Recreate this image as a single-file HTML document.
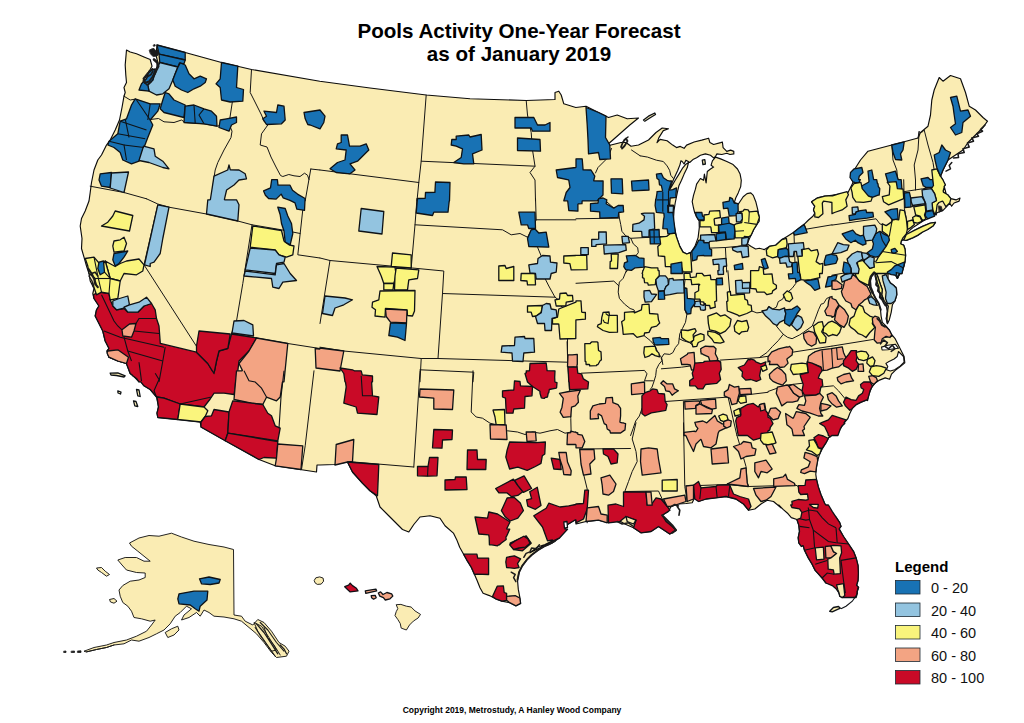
<!DOCTYPE html>
<html lang="en"><head><meta charset="utf-8"><title>Pools Activity One-Year Forecast</title>
<style>
html,body{margin:0;padding:0;background:#fff}
body{width:1024px;height:723px;overflow:hidden;position:relative;font-family:"Liberation Sans",Arial,sans-serif}
svg{position:absolute;left:0;top:0;display:block}
.t{font-family:"Liberation Sans",Arial,sans-serif;font-weight:bold;fill:#000}
.land{fill:#faecb3;stroke:#0c0c0c;stroke-width:1.15;stroke-linejoin:round}
.st{fill:none;stroke:#151515;stroke-width:1.0;stroke-linejoin:round;stroke-linecap:round}
.m polygon{stroke:#0e1216;stroke-width:1.3;stroke-linejoin:round}
.b{fill:#1872b4}.l{fill:#93c4e0}.y{fill:#faf57d}.s{fill:#f3a483}.r{fill:#c90a27}.w{fill:#fff}.c{fill:#faecb3}
</style></head><body>
<svg width="1024" height="723" viewBox="0 0 1024 723">
<rect width="1024" height="723" fill="#fff"/>

<g id="land">
<polygon class="land" points="126.5,50 130.2,52 136.5,53.8 144,57 150.2,59.5 152,66.2 147.8,73.8 144,80 146.5,83.8 150.2,85.5 152.8,80 156,71.2 157.8,62.5 156,55 157,45 185.2,52.5 221.5,62.5 251.5,69.5 319.8,81.2 370,88 426.2,95 470,98.8 526.2,100.5 555,99.5 555,92.5 558.8,91.2 561.2,95 563.8,103.8 575.8,107.5 586,106.2 598.5,112.5 608.5,117.5 617.2,115 627.2,118.8 638.5,118 629.8,125 618.5,135 608.5,143.8 603.5,147.5 611,145 621,142.5 626,142.5 631,146.2 638.5,145 648.5,140 656,132.5 662.2,128 668.5,128.8 663.3,130.6 658.9,137.6 657,142.6 660.1,139.4 667.1,140.7 672.7,145.1 676.5,147.6 680.3,146.4 684.1,148.3 686.6,145.1 694.1,142 701.7,140.1 708.6,138.2 709.9,142.6 713.6,144.5 720.6,142.6 722.4,142 723.1,147.6 726.8,151.4 730.6,150.1 733.8,151.4 733.8,153.9 730,154.5 726.8,153.3 721.8,154.5 716.8,153.9 715.5,156.4 713.6,157.9 710.5,155.2 705.4,153.9 700.4,155.2 696.6,157.7 692.9,159.6 689.7,162.5 687.8,161.2 685.9,160.2 684.1,164 682.2,161.5 680.9,160.8 680,164.6 677.8,170.3 674,178.5 671.5,184.1 668.9,189.2 668.3,191.7 671.5,186.6 675.2,180.3 679,174.1 682.8,167.8 685.9,164.2 688.5,162.5 687.2,167.8 684.1,174.1 681.5,180.3 679,185.4 677.8,190.4 676.5,196.7 675.2,203 674,210.6 673.4,221 673.5,222.5 674.8,228.8 676.7,237.6 679.8,246.4 683,252.1 686.8,254 691.2,252.1 694.9,246.4 698.1,237.6 699.3,227.6 699.1,221.3 699.2,221 697.3,218.1 694.8,213.1 693.5,208 692.2,201.7 693.5,195.4 695.4,189.2 696.6,184.1 699.2,180.3 700.4,178.5 703.6,180.3 704.4,174.1 706.1,182.9 707.3,171.5 710.5,169 713.6,167.1 711.1,165.2 712.4,160.8 714.3,158.7 715.5,157.1 720.6,158.9 726.8,161.5 733.1,164.6 737.5,169 740.1,174.1 741.3,180.3 740.7,186.6 738.2,192.9 735.7,198 734.4,202.4 738.2,204.3 740.7,200.5 743.2,196.7 747,193.6 750.8,192.9 753.3,195.4 755.8,201.7 757.7,209.3 758.9,215.6 759.3,221 759.1,221.3 756.9,224.4 753.7,229.5 751.2,235.1 748.7,240.2 747.4,243.9 751.2,246.4 755.6,249 759.4,248.3 764.4,249.6 769.4,246.4 775.7,245.2 782,239.5 787.1,236.4 793.4,232.6 799.7,227.6 804.1,224.4 808.5,220 812.9,216.2 814.8,213.1 813.5,209.9 814.8,206.2 811.6,201.8 817.3,198 824.8,196.1 832,195.5 833,195 848,192.5 853,182.5 850.5,175 854.2,170 860.5,160 868,151.2 891.8,145 904.2,141.8 918,138 920.5,132.5 928,126.2 930.5,115 931.8,100 934.2,90 939.2,77.5 943,81.2 950.5,75.5 960.5,78.8 965.5,92.5 969.2,106.2 975.5,110 983,117.5 987.5,121.2 983,127.5 975.5,135 968,142.5 963,150 955.5,155 948,160 943,170 940.5,176.2 943,180 944.2,187.5 941.8,195 948,200.8 942.8,181 945.3,184.8 942.8,188.6 943.4,192.3 947.8,194.8 950.9,198.6 956,199.9 960,198 959.1,201.1 954.1,203 951.6,206.2 949.7,203 945.9,207.4 942.8,210.6 937.7,212.5 932.7,215.6 927.7,218.8 922.6,221.3 918.8,223.8 913.8,226.9 910,230.1 906.3,233.9 904.4,237 906.9,234.9 913.8,230.7 922.6,226.3 930.2,223.2 935.5,222.3 933.3,225.7 927.7,229.5 922.6,232 917.6,235.4 912.6,237.9 906.3,240.4 903.1,239.5 901.2,241.4 900.6,243.9 903.7,245.2 905,249 905.6,255.3 905,261.6 903.1,267.8 901.9,272 905,262 903.7,267 900.6,272.1 897.4,278.4 895.6,275.2 891.2,274 888,273.3 888.1,279 890.3,282.9 893.9,285.5 896.4,288.4 896.8,294.7 894.9,301 892.4,304.8 891.2,312.3 889.3,319.9 887.4,323.7 886.1,318.6 887.4,312.3 888.4,306.1 886.1,303.5 883.6,299.8 881.7,294.7 882.3,289.7 880.5,284.7 878.8,279.6 877.3,275.2 874.8,272.1 871.6,275.8 869.5,280.9 869.8,287.2 872.3,292.2 874.8,297.2 878.6,303.5 880.5,309.8 881.1,316.1 882.3,322.4 886.1,326.2 889.3,330 891.8,335 892.2,335.1 895.3,338.9 900.3,348.9 904.1,356.5 904.8,362.8 900.3,366.6 895.3,370.3 891.5,374.1 889.6,379.2 885.2,377.9 878.9,380.4 875.2,382.9 871.4,388 868.9,394.3 867.6,400.6 867.4,399.6 861.1,402.2 856.1,404.7 852.3,408.4 849.8,413.5 847.9,418.5 843.5,423.6 840.4,428.6 837.9,434 836,431.6 833.4,434.1 828.4,437.8 825.9,442.9 822.1,449.2 819.6,454.2 817.7,460.5 816.5,466.8 815.8,474.3 816.5,479.4 818.3,486.9 820.9,494.5 824.6,503.3 829.7,510.8 832.8,515 836,517 839.7,522.6 841,526.4 839.1,528.9 843.5,536.5 848.6,544 853.6,551.6 856.1,557.9 858,565.4 858.4,573 858,580.5 856.1,586.8 858,579.8 856.1,584.9 858.6,587.4 857.4,591.2 854.8,594.3 851.1,596.2 848.6,596.8 844.8,595.6 842.3,597.5 839.7,596.2 839.1,593.1 837.9,589.9 834.7,586.1 830.9,584.3 825.9,583 825.9,583 822.1,578 818.3,573.6 815.2,570.4 812.1,564.2 808.3,557.9 804.5,550.3 803.2,545.3 801.4,546.5 798.8,542.8 798.2,537.7 799.5,531.4 798.8,525.1 796.9,519.5 791.3,517.6 788.1,513.8 783.1,509.4 778.7,505 781,507.8 773.5,501.5 767.2,500.2 761,504 754.8,509 748.5,510.2 743.5,504 736,499 726,496.5 716,497.8 706,499 698.5,501.5 696,496.5 694,499 692.2,502.8 686,503.5 678.5,504 671,506.5 668.5,511.5 662.2,515.2 666,521.5 672.2,526.5 676,530.2 669.8,534 658.5,526.5 651,531.5 641,532.8 633.5,527.8 624.8,524 618.5,520.2 608.5,522.8 598.5,520.2 586,521.5 576,524 575.8,519.5 567.5,524.5 562.5,532 555,539.5 545,544.5 537.5,547 530,552.8 559.7,537.8 551.9,543.3 544.1,546.4 537.8,550.3 531.6,555 526.9,559.7 522.2,565.9 519.1,572.2 517.5,580 518.3,589.4 519.8,597.2 520.6,603.4 515.9,605.8 509.7,602.7 501.9,601.1 495.6,598.8 489.4,595.6 483.1,593.3 480,587.8 476.9,580 474.5,574.5 471.4,567.5 467.5,561.2 463.6,554.2 459.7,547.2 456.6,539.4 453.4,533.1 445,525.8 440,518.2 430,515.8 420,517 413.8,524.5 408.8,532 402.5,529.5 395,522 387.5,514.5 380,507 376.2,495.8 370,490.8 362.5,483.2 352.5,472 347.5,462 334.5,464.5 320,465 317,465 316.5,472 275.2,465.8 259,459.5 201,427 200.2,422 177.8,419.5 157.8,417.5 157,413.2 158.5,407 156.5,397 150.2,389.5 144,385.8 139,379.5 132.8,375.8 129.5,372 139,381.8 136.5,378.5 130.2,373.5 126.5,363.5 117.8,361 109,357.2 107,351 109,348.5 105.2,341 102.8,331 99,323.5 95.2,316 96.5,309.8 99,306 94,298.5 92.8,293.5 94,288.5 90.2,281 89,273.5 86.5,266 84,257.2 81.5,248.5 82,238.5 80.2,226 81.5,218.5 85.2,211 89,201 90.2,192.5 91.5,182.5 94,170 97.8,160 101.5,155 106.5,145 110.2,140 115.2,130 119.5,120 122,107.5 124,96.2 125.2,92.5 124,87.5 126.5,82.5 125.8,75 125.2,65"/>
<polygon class="land" style="stroke-width:0.9" points="129.5,543 139,538 149,535.5 159,536.2 171.5,533.2 181.5,537 194,541.2 209,544.5 224,547 233.5,549.5 234,615 241.5,616.2 245.2,621.2 252.8,625 257.8,619.5 264,622.5 271.5,631.2 279,642.5 285.2,646.2 289,651.2 286.5,656.2 276.5,657.5 271.5,652.5 264,642.5 256.5,633.8 249,627.5 241.5,621.2 234,618.8 224,617 214,616.2 209,612.5 204,610 200.2,616.2 196.5,612.5 189,617.5 181.5,620 184,615 191.5,608.8 186.5,606.2 180.2,612.5 175.2,616.2 170.2,623.8 164,630 156.5,633.8 149,637.5 139,641.2 131.5,640 124,643.8 114,645 106.5,647.5 96.5,649.5 86.5,652 84,651.2 94,647.5 106.5,645 114,642.5 126.5,640 136.5,636.2 146.5,631.2 151.5,625 155.2,620 150.2,621.2 141.5,618.8 134,617.5 131.5,611.2 127.8,606.2 122.8,602.5 120.2,596.2 119,590 122.8,585.5 130.2,581.2 139,580 145.2,577.5 145.2,573 136.5,572.5 126.5,570 122,565 117.8,560 125.2,557.5 136.5,557.5 144,561.2 150.2,561.2 144,556.2 137.8,551.2 131.5,546.2"/>
<polygon class="land" style="stroke-width:0.9" points="96.5,568 101.5,567.5 105.2,571.2 109.5,574.5 106.5,576.2 101.5,572.5 97.8,570"/>
<polygon class="land" style="stroke-width:0.9" points="109.5,599.5 114,598.5 117,601.2 114,603.2 110.5,602"/>
<polygon class="land" style="stroke-width:0.9" points="165.2,632.5 171.5,628.8 177.8,626.2 179,630 174,635 167.8,637.5"/>
<polygon class="land" style="stroke-width:0.9" points="254,622.5 261.5,626.2 269,637.5 276.5,650 271.5,651.2 264,640 257.8,631.2"/>
<polygon class="land" style="stroke-width:0.9" points="314.2,580.5 315.8,577.8 319.7,576.9 323.1,578.1 323.6,581.2 321.2,584.1 317.3,584.4 315,582.8"/>
<polygon class="land" style="stroke-width:0.9" points="396.2,604.7 400.9,604.4 406.4,606.2 411.1,607 415,610.9 420.5,614.4 418.1,618 413.4,621.1 409.5,625 406.4,630 401.2,628.1 400.2,623.4 397.8,619.5 395,615.6 396.2,611.7 397.8,608.6"/>
<polygon points="881.5,347.1 887.8,345.2 895.3,344.2 898.5,348.3 894.1,348.7 887.8,349.7 882.1,350" fill="#fff" stroke="#111" stroke-width="1.1" stroke-linejoin="round"/>
<polygon points="898.5,351.5 903.5,356.5 904.1,362.2 900.3,365.9 894.7,369.7 890.3,371 886.5,369.7 887.8,366.6 885.9,363.4 889,361.5 894.1,359 897.2,356.5" fill="#fff" stroke="#111" stroke-width="1.1" stroke-linejoin="round"/>
</g>
<g id="states">
<polyline class="st" points="124,96.2 130.2,100 136,99 139,105 150.2,119.5 158.5,118.5 164,121.8 174,122.5 181.5,120 185.2,122.5 204,123.8 217,126.2 229,123.8"/>
<polyline class="st" points="237.8,66.2 229,123.8"/>
<polyline class="st" points="251.5,69.5 250.2,92.5 254,100 261.5,115 264,121.2 267.8,125 261.5,133.8 260.2,145 267,147 271,157 276,167 280.5,175.5 282.8,176.5 288.8,174.5 294,175.8 300,176.5 304.5,173.2 307.5,175.2 309,179.5"/>
<polyline class="st" points="229,123.8 232,131.2 231,137.5 224,150 217.8,162.5 215.2,170 214,177.5 211.5,200.8"/>
<polyline class="st" points="90.2,186.2 124,192.5 146.5,198.8"/>
<polyline class="st" points="310.8,169 319.8,170"/>
<polyline class="st" points="310.8,169 305.2,200.8"/>
<polyline class="st" points="426.2,95 421.2,161.2 418.8,182.5 417,200.8"/>
<polyline class="st" points="421.2,161.2 535,166.2"/>
<polyline class="st" points="526.2,100.5 527.5,115 531.2,132.5 532.5,150 535,166.2 530,172.5 535,180 535.5,200.8"/>
<polyline class="st" points="320,170 418.8,182.5"/>
<polyline class="st" points="891.8,145 893,160 896.8,170 898,182.5 904.2,192.5 905.5,200.8"/>
<polyline class="st" points="918,138 919.2,131.2 918,150 914.2,165 915.5,180 915.5,190"/>
<polyline class="st" points="921.8,132.5 924.2,130 928,145 933,162.5 934.2,170 938,176.2"/>
<polyline class="st" points="146.5,198.8 157.8,204 169,207.2 206.5,214 237.8,221 252,224.8 281.5,229.8 300.2,233.5"/>
<polyline class="st" points="157.8,204.8 144,264.8 214,373.5 216.5,381.8"/>
<polyline class="st" points="304,198.5 300.2,233.5 297.8,254.8 319.8,258"/>
<polyline class="st" points="252,224.8 242.8,283.5 236.5,321 231.5,333.5"/>
<polyline class="st" points="231.5,333.5 256.5,338 287.8,343.5 319.8,348.5"/>
<polyline class="st" points="231.5,333.5 227.8,348.5 219,351 216.5,361 214,373.5"/>
<polyline class="st" points="320,258 330,260.5 412.5,268 443.8,271 442.5,293.5 555,297.2"/>
<polyline class="st" points="417,198.5 415,224.8 411.2,268"/>
<polyline class="st" points="415,224.8 502.5,229.8 511.2,234.8 520,233.5 527.5,237.2 537.5,247.2 541.2,256 545,278.5 548.8,286 555,297.2 560,301 561.2,306 567.5,313.5 567.5,362.2"/>
<polyline class="st" points="330,260.5 320,323.5"/>
<polyline class="st" points="442.5,293.5 438,358.5"/>
<polyline class="st" points="320,347.2 343.8,351 421.2,358.5 438,358.5 567.5,362.2"/>
<polyline class="st" points="421.2,358.5 420,381.8"/>
<polyline class="st" points="420,369.8 473.8,372.2 473,381.8"/>
<polyline class="st" points="535.5,198.5 536.2,219.8 532.5,228.5 527.5,237.2"/>
<polyline class="st" points="536.2,219.8 575.8,219.8"/>
<polyline class="st" points="640,155.8 647.6,157.1 656.4,160.2 663.3,161.5 667.1,165.9 669.6,170.3 670.8,175.3 673.4,178.5"/>
<polyline class="st" points="576,218.8 618.8,218.1"/>
<polyline class="st" points="606.8,201.8 613.8,208.1 618.8,213.7 619.4,218.1 620.7,224.4 621.9,231.3 625.7,235.8 630.8,238.3 633.3,243.9 637.7,247.7 638.3,252.7 635.2,256.5 631.4,262.8 626.3,272"/>
<polyline class="st" points="630.8,238.3 666.6,236.4 675.4,233.6"/>
<polyline class="st" points="704,248.3 725.4,247.5 747.4,245.4"/>
<polyline class="st" points="725.4,247.5 726.7,272"/>
<polyline class="st" points="794,233.6 795.3,272"/>
<polyline class="st" points="804.1,224.4 806,229.2 832,224.8"/>
<polyline class="st" points="576,283.3 613.8,281.1 618.8,285.8"/>
<polyline class="st" points="626.3,270.7 623.2,278.3 619.4,282.1 618.8,285.8 618.2,292.1 619.4,298.4 624.5,304.1 630.1,308.5 633.9,309.8 635.2,312.3"/>
<polyline class="st" points="644,335.6 650.3,340.6 655.3,346.3 657.8,352.6 661.6,357.6 662.8,364.5"/>
<polyline class="st" points="684.2,287.1 684.9,309.8 686.8,314.8 685.5,322.3 682.4,328.6 679.8,333.7 679.2,338.7 678.6,343.7 675.4,347.5 672.9,352.6 669.8,354.4 664.1,353.8 661.6,357.6"/>
<polyline class="st" points="679.2,338.7 683,340.6 689.3,342.5 694.3,346.3 704,337.4"/>
<polyline class="st" points="727.9,270.7 730.4,299.7"/>
<polyline class="st" points="751.8,311 756.9,312.9 761.3,312.3 766.9,309.8 768.8,306.6 772.6,309.1 776.4,307.2 778.3,301.6 782.7,299.1 784.6,294.7 792.1,288.4 795.9,283.3 794.9,270.7"/>
<polyline class="st" points="776.4,326.1 779.5,329.9 783.3,334.3 778.3,340.6 772.6,346.3 766.9,352.6 759.4,357.6"/>
<polyline class="st" points="720.4,360.1 759.4,357.6 792.1,352.6"/>
<polyline class="st" points="783.3,334.3 787.7,337.4 792.1,338.7 799.7,334.9 803.4,332.4 812.2,326.1 814.8,319.8 818.5,309.8 821.1,304.1 823.6,303.5 826.7,298.4 829.9,297.2"/>
<polyline class="st" points="832,225.1 876.1,218.8 879.8,223.8 884.9,225.7"/>
<polyline class="st" points="884.9,225.7 901.2,236.4"/>
<polyline class="st" points="884.9,225.7 882.3,231.3 879.8,233.9 881.7,238.9 886.1,246.4 891.2,249 894.9,251.5 892.4,256.5 887.4,262.8 882.3,267.8"/>
<polyline class="st" points="903.7,179.7 904.4,208.7 906.3,218.8 907.5,228.8"/>
<polyline class="st" points="903.7,191.7 922.6,188.8 941.5,186"/>
<polyline class="st" points="904.4,207.7 913.8,206.4 926.4,204.5 935.2,203.3 936.5,215"/>
<polyline class="st" points="832,275.2 869.8,268.3 882.3,266.4 884.9,274.6 887.4,287.2 896.2,287.2"/>
<polyline class="st" points="832,346.1 873.5,339.4 892.4,336.3"/>
<polyline class="st" points="843.3,275.8 852.1,274.6 857.2,280.9 867.2,287.2 869.8,293.5 873.5,298.5 878.6,303.5"/>
<polyline class="st" points="793.2,352.1 831.9,346.1"/>
<polyline class="st" points="768,391.5 785.6,385.2 802,383.3"/>
<polyline class="st" points="820.9,387.1 833.4,385.8 838.5,390.8 844.8,398.4"/>
<polyline class="st" points="661.4,368.8 681.5,367.2 720.6,361.9"/>
<polyline class="st" points="661.1,357.9 662,360.6 658.9,364.4 656.4,369.4 655.7,375.7 653.8,382 652,387.1 650.1,389.6"/>
<polyline class="st" points="665.2,401.5 728.1,397.1 768,392.3"/>
<polyline class="st" points="683.4,401.5 684.1,435.5"/>
<polyline class="st" points="728.1,397.1 736.9,435.5"/>
<polyline class="st" points="567.1,341.7 567.7,362.5 569.6,390.8 570.8,418.5 571.2,435.5"/>
<polyline class="st" points="581.5,373.2 644.5,370.4 647,373.8 644.5,380.8 653.3,380.8"/>
<polyline class="st" points="642,408.4 639.4,416 635.7,421 633.1,428.6 630.6,435.5"/>
<polyline class="st" points="314,370.8 305.2,445.8 301.5,469.5"/>
<polyline class="st" points="420,370.8 413.8,467"/>
<polyline class="st" points="347.5,461.5 413.8,467"/>
<polyline class="st" points="473,370.8 471.2,412 476.2,417 482.5,418.2 490,423.2 500,425.8 507.5,430.8 517.5,432 525,434.5 532.5,432 540,433.2 550,430.8 557.5,429.5 565,433.2 571.2,432 575.8,434.5"/>
<polyline class="st" points="579.8,449 630.5,448.5"/>
<polyline class="st" points="579.8,449 583.5,474 587.2,489 586,506.5 587.2,522.8"/>
<polyline class="st" points="636,422.8 632.2,439 636,451.5 637.2,461.5 632.2,471.5 628.5,481.5 624.8,491.5 658.5,491 662.2,499 667.2,506.5 669.8,510.2"/>
<polyline class="st" points="683.5,422.8 684.8,486.5 687.2,501.5"/>
<polyline class="st" points="686,486 727.2,484.5 748.5,486.5 796,485.2 802.2,489 806,484 813.5,481.5"/>
<polyline class="st" points="737,435.5 741,449 746,466.5 747.2,482.8 748.5,486.5"/>
<polyline class="st" points="611.5,148.5 608,157.5 598,167.5 595.5,173"/>
<polyline class="st" points="631.5,150 640,155.7"/>
<polyline class="st" points="687.5,253.5 686,272 684.2,287"/>
</g>
<g class="m">
<polygon class="b" points="304,112.5 305.2,118.8 307.8,124.5 310.2,125 320,128.8 323.8,122.5 325,116.2 320,110"/>
<polygon class="l" points="206.5,214 237.8,221 239,204.8 236.5,199.8 224.8,199.8 224.5,199.7 224.4,199.3 226.6,190 234,185 239,180 246.5,178.8 245.2,173.8 239,170 230.3,169.9 229,165 227.7,170 214,176.2 210.4,199.5 210,199.8 207.8,199.8"/>
<polygon class="b" points="416.2,213 432.5,215.5 433.7,212.4 434,212.2 448,212.2 449.2,201.2 449.5,200.8 450,182.5 435.5,182 434.9,192.4 425.5,192.5 425.2,198.1 425,198.4 417.5,198.5"/>
<polygon class="b" points="556.2,170 557.5,177.5 568.5,179.9 568.8,180.3 570,187.5 566.2,192.5 563.8,200.8 567.4,200.8 567.7,201 568.8,210.5 577.9,211.2 577.9,204.2 578.3,203.9 582,203.7 582.1,201.2 582.3,200.9 597.2,200.8 603,195 603.1,181 593.9,180.9 593.7,180.5 594.8,176.2 591,170 583.1,169.9 582.2,158.8 576,158.8 576,167.1 575.7,167.5"/>
<polygon class="b" points="850,177.5 853,182 854.4,182.2 854.7,182.9 859.1,182.3 860.3,179.7 859,179.7 858.6,179.4 859.2,176.3 863,172.5 861.8,167.5 854.2,168.8 850.5,172.5"/>
<polygon class="b" points="861.6,186 862.3,191.3 861.8,192.5 865.5,195 867.5,195.3 868.5,196.1 872.3,197.4 878.1,195.2 879.2,195 879.8,188.6 878.3,186.5 878,183.8 877.4,183.4 876.7,179.7 874,179.7 873.6,179.4 871.8,170 868,171.2 869,181.2 868.5,182.2"/>
<polygon class="b" points="885.5,173.8 887.7,181.5 887.4,182.3 895.3,183.8 895.6,184.1 896.8,190 901.8,190 901.5,189.1 901.9,188.6 901.2,179.7 898.6,179.7 898.2,179.5 895.5,171.2"/>
<polygon class="b" points="921,178.8 923.3,186 924.7,186.4 925.5,187.5 934.2,187.5 933.7,185.3 934,184.8 932.7,179.7 930.2,179.7 928,177.5"/>
<polygon class="y" points="931.4,188.6 934.6,193.6 936.4,200.2 936.2,200.6 932.1,203 932.7,209.9 935.2,215 936.5,209.9 937.1,204.9 938.9,202.5 942.4,201.2 942.8,201.3 945.9,206.8 949.7,203 950.9,198.6 947.8,194.8 943.4,192.2 943.2,190.8 944.2,187.5 944.1,186.7 945.3,184.8 943,180 940.5,176.2 936.8,168.8 931.8,170 933.5,185.5"/>
<polygon class="r" points="93.5,294.8 94,298.5 98.9,306 96.5,309.8 95.2,316 102.8,331 105.2,341 108.9,348.3 108.8,348.7 107,351 109,357.2 117.8,361 126.4,363.5 130.2,373.5 132.5,375.3 132.8,375.8 136.5,378.5 139,381.8 140.9,381.9 144,385.8 150.2,389.5 156.5,397 164,398.2 180.2,404 204,407 210.2,399 214.1,393.2 224,393.2 234,394.5 235.2,387 235.6,382.2 235.9,381.8 236.5,381.8 239,361 249,351 256.5,338 231.5,334 227.8,348.3 219,351 216.5,361 214.6,370.5 214.2,370.8 212.4,370.8 207.8,363.5 196.5,352.2 160.3,343.4 159,326 156.5,318.5 155.2,309.8 151.5,303.5 144,306 137.8,312.2 127.9,312.2 124,308.5 116.7,309.8 116.3,309.6 112.8,305.9 110.2,299.8 109,293.5 97.8,292.2"/>
<polygon class="s" points="234,399.5 251.5,403.2 262.8,404.5 266.5,397.2 276.5,400.8 280.2,397 282.4,382.1 282.7,381.8 284,381.8 287.8,343.5 256.5,338 249,351 239,363.5 242.4,370.4 242,370.8 236.5,370.8"/>
<polygon class="s" points="315.2,348.5 316,368 340,371 343.8,351 320,348 320,348.7 319.6,349"/>
<polygon class="r" points="340,368 343.8,373.5 345,381.8 345.5,382.1 346.2,386.9 343.8,403.2 356.1,407 357.5,413.2 377,414.5 378.8,397 372.8,395.9 372.5,395.5 371.6,382.2 371.9,381.9 372.5,381.8 372.5,376 362.4,374.9 362.2,374.6 361.2,370.8 354.3,370.8 352.5,369.8"/>
<polygon class="y" points="563.8,256 563.8,263 569.9,263.6 571.2,269.8 587.1,269.7 586.7,255.3 576,255.3 575.6,255.5"/>
<polygon class="y" points="552.5,324 558.4,324 558.8,324.2 560,339 575.8,338.5 575.9,320 576.2,319.8 585.4,319.2 585.4,312.5 582.1,312.3 581.7,312 581,300.9 576,300.9 576,301.9 575.8,302.2 558.8,309 557.5,317.1 552.5,318.5"/>
<polygon class="r" points="525,373.5 527.5,382 532.5,386.5 539.9,391.2 540,393.3 541.3,397.8 542.5,398.2 544.4,398.4 544.8,397.7 547.5,397 548.2,393.1 548.8,392.7 549.3,389.5 556.2,388.2 556.6,387.7 557,382.6 555.2,382.1 554.9,381.7 554.7,377.5 555,370.8 547.1,370.7 546.2,363 530,363.5 529.5,370.6 529.1,370.8 526.2,370.8 526.4,372.6"/>
<polygon class="s" points="567.5,366.5 568.2,366.7 568.3,367.2 573.6,367 575.8,367.2 576.1,366.9 577.1,366.9 577,364.9 577.3,364.5 577.3,354.4 572.2,354.8 568,354.8"/>
<polygon class="r" points="568,367.2 568.8,381.8 569.2,382.2 569.5,389 570,389.1 570.2,389.6 587.8,388.9 588.5,382 583.4,378.9 581.5,373.8 577.8,373.1 577.1,367.2"/>
<polygon class="b" points="655.1,205.5 656.4,212.4 663.5,213.1 663.9,213.4 664.2,216.6 663.5,220 662.8,228.6 667.2,228.9 667.9,233.9 675.4,233.2 673,213.5 673.4,205.5 670,205.5 669.6,205 670.2,198 676.1,197.4 675.9,195.2 676.5,187.9 672.7,189.7 669.4,190.2 669.1,190.1 668.9,189.7 671.7,181 669.4,181 667.1,180.3 663.4,177.8 661.4,173.4 656.4,174.1 657,178.5 658.9,179.8 659.5,184.8 661.3,185.3 662.5,190.7 662.2,191.1 657,191.7 657,193 656.1,198.7 655.7,199.2"/>
<polygon class="l" points="632.6,231.3 641.4,231.3 641.7,231.7 642.1,237 649,237 649.1,230.2 654.7,228.8 654,213.1 644.6,213.1 641.4,213.7 644.5,216.2 644,219.9 638.9,223.2 632.9,224.4"/>
<polygon class="b" points="691.8,251.5 692.4,260.9 696.8,259.7 697.4,256.2 697.8,255.9 703.6,255.3 703.9,255.5 704,255.9 711.6,255.9 711.6,249.6 709.7,248.8 709,242.7 704.3,242.7 704,242.3 704,241.4 701.9,240.2 698.7,240.2 695.6,246.4"/>
<polygon class="y" points="700,220.6 700,226.9 710.6,226.9 710.9,227.3 711.6,232.6 718.5,232.4 718.5,225.1 715.1,225.1 714.7,224.9 714.1,219.1 714.5,218.7 720.4,217.5 719.7,210.6 709.7,211.2 708.9,214.4 704,215 703.9,220.5"/>
<polygon class="l" points="700.6,235.1 700.6,240.2 703.8,240.3 704,240.6 704,242.7 709,242.7 709.9,241.4 716,240.8 714.7,234.5"/>
<polygon class="y" points="642.1,273.5 642.6,273.9 642.5,277.7 644,278.4 644.6,282.7 647.6,282.8 648.4,285.2 655.3,284.6 655.9,279.6 659.3,275.8 659.1,270.7 658.4,270.7 658.1,270.4 657.8,267.8 651.5,267.8 644.6,266.6 643.2,270.4 642.7,270.7 642.7,272"/>
<polygon class="l" points="712.8,259.7 713.4,264.7 718.5,264.2 718.9,264.5 719,270.3 718.7,270.7 717.8,270.7 718.1,274.5 723.5,274.3 723.5,270.7 723.2,270.3 723.5,266.8 723.8,266.5 726.7,266 726,258.4"/>
<polygon class="y" points="750.6,288.4 756,289 756.9,292.1 764.4,292.1 766.9,294.7 772,293.4 772.7,290.9 776.4,288.4 776.4,285.2 773.2,283.2 772,273.9 764,274.4 763.7,273.9 763.2,267.8 759.4,266.6 758.7,270.3 758.4,270.7 750.6,270.7"/>
<polygon class="b" points="788.3,273.9 789,278.9 795.1,278.4 795.4,278.7 795.9,282.1 800.9,279.6 799.7,272 798.2,272.7 797.7,272.4 797.1,262.2 792.1,262.8 792.7,273.3 792.3,273.6"/>
<polygon class="y" points="797.8,256.5 799.7,273.5 800.1,273.9 800.9,279.6 804.7,280.2 811,279.6 819.8,277.7 819.5,273.7 819.9,273.5 822.3,273.5 822.9,263.4 819.8,264.1 816.1,261.6 818.5,254 817.3,249.6 811.1,250.9 808.5,248.3 802.2,249.6 802.1,255.8"/>
<polygon class="b" points="824.2,261.6 824.8,265.3 835.8,263.4 837.7,259 836.4,255.3 832.3,254.7 832,254 826.1,255.3"/>
<polygon class="b" points="832,264.1 832,264.1 832,264.1"/>
<polygon class="y" points="811.6,201.8 814.7,206.2 813.5,209.9 814.8,213.1 814.8,216.9 818.5,217.5 822.9,213.7 822.3,203.1 823.5,201.2 828.6,201.8 831.9,202.5 832,213.7 834.5,212.5 842.1,209.9 847.1,206.2 845.8,199.9 848.4,194.8 847.1,191.7 839.6,193.6 832.5,195.9 832.2,195.8 832,195.5 824.8,196.1 817.3,198"/>
<polygon class="y" points="684,273.3 684.2,279.3 691.1,279.7 691.8,284.6 699.2,284.2 699.7,284.5 699.5,285.1 698.7,285.2 698.6,290.8 694.9,292.8 694.9,299.1 699.9,299.2 700.6,301.6 703.8,302.2 704,303.5 705.3,303.6 705.9,305.4 709.6,305.5 710.3,308.5 715.3,307.2 714.7,301.8 715,301.5 716.6,300.9 716,279.6 711.1,279.6 710.9,279.3 710.3,275.1 704.1,275.8 701.9,273.3 696.6,273.3 696.1,276.9 690.9,277.6 690.4,277.3 689.9,273.3"/>
<polygon class="l" points="694.3,306.6 699.8,306.6 700.1,306.9 700.6,309.8 704,310.4 704.3,309.8 705.5,309.8 705.3,304.1 704,304.1 704,305 703.6,305.3 700.8,304.7 700.6,304.4 700,300.9 694.9,301.6"/>
<polygon class="y" points="584.8,343.7 585.1,361.3 585.7,361.4 585.9,361.7 586.1,364.5 589.3,364.5 589.6,364.8 589.7,365.9 596.6,365.7 596.9,364.6 598,364.5 600.4,360.3 601.4,360 601,351.8 598.5,350.5 597.9,342.4 597.5,342.3 597.4,341.9 591.7,341.9 591.5,342.3 591,342.4 590.2,343.6"/>
<polygon class="b" points="652.8,338.1 653.4,342.5 654.1,343.1 654.5,344.9 656.2,344.8 656.6,345 668.9,344.4 668.5,338.7 661.2,338.7 660.3,337.4"/>
<polygon class="y" points="691.6,341.7 691.8,343.1 692.9,346.8 696.8,346.3 698.2,342.5 704,340 704,334.9 700.6,333.7 694.3,336.2 692.4,341.4"/>
<polygon class="s" points="680.5,358.8 681.7,364.5 687.4,364.5 690.2,365 691.6,370.1 697.3,369.4 697.9,364.4 695.1,363.2 694.8,362.9 694.1,352.4 687.8,353.1 687.4,354.2"/>
<polygon class="s" points="700.6,348.8 700.9,351.1 700.7,351.8 701,352.2 701.2,353.8 702.4,353.8 702.9,354.3 708.5,356.8 709.9,361.3 718,360.6 717.3,359.3 717.4,359 717.8,358.8 715.3,353.8 716,348.8 713.4,346.3 709.5,346.5 705.4,346.1 701.7,348 701.5,348.4"/>
<polygon class="r" points="689.7,385.8 695.3,385.8 697.9,388.9 702.9,388.9 705.5,384.5 716.8,383.3 720.6,379.5 719.3,373.3 721.2,369.4 720.6,361.9 719.3,361.6 719.1,360.7 704,361.4 704,362.1 703.6,362.4 694.8,363.1 693.5,370.1 692.2,373.2 693.4,378.1 689.7,380.8"/>
<polygon class="r" points="738.2,367.5 742.5,371.8 742,376.4 745.7,380.1 750.8,379.5 756.4,381.4 760.8,379.5 759.6,375.7 760.8,369.5 764.6,366.9 765.9,361.9 760.7,363.8 755.8,361.8 754.3,360.1 750.6,358.8 750,359.9 748.2,359.4 744.4,365"/>
<polygon class="s" points="768,356.8 768,361.9 769.4,361 770,361.4 769.4,364.5 777.4,364.5 780,367.5 784.4,366.9 788.1,363.1 786.9,359.5 787.1,358.8 792.1,355.1 792.7,350 789.6,346.3 788,347.2 786.9,346.8 778.7,348.9 778.3,348.8 777.7,349.4 771.8,351.8"/>
<polygon class="b" points="825.5,287.1 832,285.8 832.1,281 835.8,279.6 837,275.2 832,275.8 831.7,276.4 828,277"/>
<polygon class="s" points="824.8,311 826.7,315.4 831.7,316.1 832,316.4 832,317.4 834.5,316.1 835.8,309.8 838.9,304.8 835.8,299.8 832.1,298.5 832,296.5 829.9,297.2 828.6,300.9 828,306"/>
<polygon class="y" points="822.9,332.4 826.1,333.7 828.6,336.2 832,334.9 832.4,334.5 837,335.6 839.6,332.5 841.4,327.4 837,323.7 832,321.1 828.6,322.3 823.6,327.4"/>
<polygon class="s" points="807.2,364.5 815.4,364.5 820.9,366.9 822.1,370.7 827.2,370.1 832.2,368.2 838.5,366.9 843.5,363.1 846,358.1 843.5,352.4 842.3,346.8 830.9,348.7 820.9,349.9 814.6,351.8 814.4,352.3 813.5,352.6 808.5,356.3"/>
<polygon class="y" points="855.3,274.6 857.2,278.4 859.1,280.9 868.5,285.3 869.5,280.9 871.6,275.9 873.6,273.5 901.9,273.5 903.1,267.8 905,261.6 905.6,255.3 905,249 903.7,245.2 900.9,244 900.7,243.6 901.2,241.4 903.1,237.6 906.3,233.9 907.5,228.8 906.3,218.8 904.4,210.6 900,209.9 898.8,219.5 898.6,219.8 892.4,218.8 891.7,221.9 886.2,225.6 882.3,223.8 882.3,231.3 887.4,235.1 889.2,240.2 884.9,246.4 882.3,251.5 878.6,256.5 876.2,261.2 873.5,261.4 874.1,267.1 869.8,268.3 867.2,264.7 863.5,260.3 857.2,261.6 858.4,269.6"/>
<polygon class="l" points="847.1,259 848.4,264.1 849.5,264.5 851.1,268.9 851.5,273.5 858.4,273.5 859.1,269.1 856.6,263.1 858.4,261.6 862.8,259 861.6,252.1 857.2,251.5 852.1,254"/>
<polygon class="l" points="863.5,261.4 869.8,268.3 874.2,267 873.8,263.4 874.2,257.8 869.8,256.5 864.1,260.3 864.5,260.8 864.4,261.2"/>
<polygon class="b" points="842.7,270.8 843.9,272.8 844,273.5 844.6,274 846.5,273.5 850.9,273.5 850.9,267.8 850.3,267.1 848.4,263.3 844,262"/>
<polygon class="b" points="887.4,272 887.4,273.5 889,273.5 891.2,274.6 895.6,275.2 897.4,278.4 899.8,273.6 901.9,273.5 903.1,269.1 902.9,268.3 903.7,267 904.4,262 894.9,265.8 891.2,269.6"/>
<polygon class="r" points="843.5,360.6 843.5,365.7 848.6,368.2 852.3,371.3 856.1,369.4 858.6,364.4 856.1,360.6 857.4,355.6 856.4,351.6 856.5,350.7 851.1,350.6 848.6,354.3"/>
<polygon class="s" points="785.6,413.5 786.9,424.8 790.2,427.3 792,429.1 793.2,435.5 804.5,435.5 802.5,430.6 804.5,429 804,426.5 810.2,417.3 805.8,413.5 796.3,411.6 793.4,418 792.9,418.3"/>
<polygon class="r" points="735.7,421 738.2,435.5 747.5,435.5 753.5,440.2 761,437.8 761.5,435.8 761.8,435.5 768,435.5 768,431 768.3,430.7 769.8,430.2 770.3,427.3 773,423.6 770.5,418.5 768,417.2 768,413.5 765.9,410.9 764.6,403.4 759.6,404.7 758.5,406.8 758.2,407 753.3,403.4 747,404.7 740.7,408.4 740.7,415.8 736.9,417.3"/>
<polygon class="r" points="819.6,423.4 824.6,426.5 828,433.5 828.4,435.5 829,435.7 829.7,437.2 831.8,435.5 837.9,435.5 840.4,428.6 842.2,425.7 844.8,423.4 844.2,423.3 844,422.8 846,419.8 832.2,415.4 828.4,419.8 820.9,422.9 820.6,423.4"/>
<polygon class="s" points="631.3,383.9 631.6,394.6 644.7,393.3 644.5,382"/>
<polygon class="s" points="684.1,432.4 684.1,435.5 685.7,435.5 686,435.7 688.5,441.5 693.5,451.5 696,444 700.7,439.4 701.2,439.7 703.5,446.5 711,447.8 716,444 718.2,433 719.1,431.2 726,427.8 723.5,424 722,423.9 721.8,423.6 717.4,421 714.9,415.4 706.8,422.8 702.9,421 694.8,422.3 696,426.1 697.9,428.4 696,431.5 695.1,431.6 694.8,431.1"/>
<polygon class="s" points="590.3,411 590.3,419.1 598.5,418.5 598,414.4 598.3,414 598.7,414 601.6,415.9 604.2,423.6 606.4,424.9 607.2,429 609.8,430.6 610.5,433 620.6,433 624.2,430.4 624.8,430.2 625,429.8 625.6,423.6 623.8,423.2 623.5,422.8 622.1,422.8 620.3,422.4 619.9,422 620.6,416 620.6,408.4 618,404.7 612.9,402.7 612.4,397.4 606.1,397.8 605.4,403 605.2,403.4 599.2,404 592.9,405.9"/>
<polygon class="s" points="567,444.5 575.6,444.5 576,444.9 576,447.8 582.2,447.8 584.8,441.5 582.2,435.2 578,434.4 577.8,434.1 577.8,433 576,432.5 575.8,432 574.7,432.1 570.8,431.1 570.8,432.4 570.6,432.7 567.5,433.2"/>
<polygon class="r" points="475,517 478.8,534 488.7,534.8 489.2,537.8 489.4,544.8 491.7,544.8 497.5,545.8 498.8,544.8 499.5,544.8 501.4,543 506.2,539.5 505.9,537.2 506.6,536.2 509.7,529.2 507,529.2 506.7,528.7 510,522 497.5,514 488.8,512 487.6,517.8 487.3,518.1"/>
<polygon class="r" points="533.8,515.8 542.5,527 547.5,540.8 552.4,540 553.4,540.9 559.7,537.8 567.5,529.2 565.1,529.2 564.8,528.8 567.5,524.5 575.4,519.8 575.8,519.8 576,520.1 576,522.8 583.5,519 587.2,509 588.5,490.2 584.8,490.2 583.5,503.1 583.3,503.5 576,504 575.6,504.5 568.8,505.8 560,507 548.8,503.2 546.2,508.2"/>
<polygon class="r" points="790.7,505 791.9,507.5 799.5,508.8 801.9,512.5 800.7,518.1 796.9,519.5 798.8,525.1 799.5,531.3 798.2,537.7 798.8,542.8 801.4,546.5 802.8,545.6 803.3,545.8 804.5,550.3 808.3,557.9 812.1,564.2 815.2,570.4 822.1,578 825.9,583 832.2,585.6 836,588.7 839.1,593.1 841.6,597.5 856.1,597.5 857.4,593.1 857.1,591.6 858.6,587.4 856.6,585.3 858,580.5 858.4,573 858,565.4 856.1,557.9 853.6,551.6 843.5,536.5 839.2,529.1 839.3,528.7 841,526.4 839.7,522.6 832.2,511.3 828.4,505 825.8,505 824.6,503.3 820.9,494.5 818.3,486.9 816.5,479.4 805.8,480 805,485.3 798.2,485.7 798.8,492 800.7,494.5 807.5,494 808.2,499.3 808,499.6 805.8,500.1 798.2,499.5 791.9,501.4 792.2,504.7 791.8,505"/>
<polygon class="b" points="157,45 185.2,52.5 185.2,60 159,54.2"/>
<polygon class="b" points="159,54.2 185.2,60 184,63.8 179.5,63 177.8,67 159.8,62.5"/>
<polygon class="l" points="159.8,62.5 177.8,67 175.2,73.8 172.8,80 169,88.8 162.8,93.8 156.5,95 149,91.2 147.8,85 152.8,80 156.5,70"/>
<polygon class="b" points="180.2,63 185.2,65 189,73.8 194,78.8 200.2,76.2 206.5,78.8 205.2,82.5 200.2,86.2 194,88.8 187.8,92.5 181.5,90 175.2,86.2 172.8,80 175.2,73.8 177.8,67.5"/>
<polygon class="b" points="149,71.2 155.2,68.8 152.8,80 147.8,85 149,91.2 139,90 141.5,83.8 146.5,78.8"/>
<polygon class="b" points="221.5,62.5 237.8,66.2 236.5,87.5 243.5,89.5 242.8,101.2 230.2,102 221.5,100 220.2,87.5 216,83.8 220.2,78.8"/>
<polygon class="b" points="165.2,92.5 169,93.8 174,100 185.2,105 184,117.5 164,112.5 160.2,108.8 162.8,100"/>
<polygon class="b" points="185.2,106.2 194,105 204,108.8 211.5,111.2 216.5,116.2 217,126.2 204,123.8 184,122.5"/>
<polygon class="b" points="220.2,120 226.5,118.8 236.5,117 236.5,122.5 231.5,125 229,131.2 219,127.5"/>
<polygon class="b" points="135.2,98.8 150.2,103.8 160.2,103.8 157.8,111.2 150.2,120 152.8,125 147.8,137.5 144,147.5 139,161.2 131.5,163.8 122.8,160 120.2,152.5 114,147.5 107.8,145 109,141.2 117.8,133.8 120.2,121.2 126.5,118.8 131.5,105"/>
<polygon class="l" points="143.5,146.2 154,148.8 155.2,156.2 162.8,161.2 169,168.8 162.8,167.5 149,162.5 139,160.5"/>
<polygon class="b" points="100.2,173.8 111.5,172.5 110.2,187.5 101.5,186.2 99,180"/>
<polygon class="l" points="111.5,173 128.5,172 124,192.5 110.2,188"/>
<polygon class="b" points="264,111.2 276.5,112.5 277.8,105 284,106.2 285.2,120 281.5,123.8 266.5,124.5 262.8,118.8 266.5,116.2"/>
<polygon class="b" points="341.2,135 347.5,135 349.5,146.2 360,146.2 366.2,143.8 368.8,150 357.5,161.2 350,163.8 355,170 350,173.8 336.2,172.5 330,168.8 337.5,162.5 345,160 346.2,150 336.2,148.8 337.5,143.8 341.2,142.5"/>
<polygon class="b" points="456.2,136.2 468.8,135 470,137 481.2,134.5 482,150 472.5,153.8 473.8,163.8 463.8,163.8 453.8,162.5 461.2,157.5 462.5,148.8 456.2,146.2 451.2,145 451.8,139.5 456.2,139.5"/>
<polygon class="b" points="515,117.5 533.8,117.5 537.5,125 545,125 550,122.5 550,131.2 532.5,131.2 531.2,128 515,128"/>
<polygon class="b" points="517.5,138 540,139.5 540.5,151.2 517.5,150.5"/>
<polygon class="b" points="586,107.5 598.5,112.5 606,116.2 605.5,137.5 609.8,145 610.5,158.8 599.8,159.5 598.5,152.5 588.5,153.8 588,140 587.2,125"/>
<polygon class="b" points="611,178.8 622.2,178.8 622.8,193.8 611.5,193.2"/>
<polygon class="b" points="631.5,181.2 648.5,180 649,190 632.2,190.8"/>
<polygon class="c" points="643.5,120 648.5,116.2 654.8,113 655.5,114.5 649.8,118 644.8,121.2"/>
<polygon class="b" points="891.8,145 904.2,141.8 903,150 900.5,153.8 901.8,160 895.5,159.5 893,152.5"/>
<polygon class="b" points="950.5,97.5 956.8,96.2 960.5,111.2 968,110 970.5,116.2 963,122.5 961.8,132.5 955.5,135 950.5,127.5 955.5,123.8 954.2,115 953,106.2"/>
<polygon class="b" points="934.2,155 939.2,152.5 941.8,145 945.5,150 950.5,152.5 948,160 943,170 940.5,176.2 936.8,167.5 935,160"/>
<polygon class="r" points="199,331 230.2,334 227.8,348.5 219,351 216.5,361 214,373.5 207.8,363.5 196.5,352.2 196.5,346"/>
<polygon class="s" points="107.8,351 117.8,349.8 128.5,357.2 126.5,363.5 117.8,361 109,357.2 107,353"/>
<polygon class="s" points="122,329.8 129.5,324 136,323.5 134,331 131.5,337.2 122.8,336"/>
<polygon class="y" points="252.8,226 281.5,230.5 284,241 289,244.8 294,246 292.8,254.8 286.5,257.2 279,254.8 275.2,249.8 250.2,247.2"/>
<polygon class="b" points="277.8,207.2 285.2,208.5 287.8,216 291.5,223.5 292.8,233.5 290.2,244.8 285.2,242.2 284,231 281.5,223.5 280.2,214.8"/>
<polygon class="l" points="250.2,248 275.2,250.2 279,254.8 285.2,257.2 284,262.2 276.5,263.5 275.2,273.5 245.2,269.8"/>
<polygon class="l" points="245.2,271 275.2,274.8 276.5,264.8 284,263.5 290.2,273.5 296.5,280.5 282.8,282.2 279,288.5 272.8,287.2 271.5,278.5 244,276"/>
<polygon class="l" points="234,321 244,320.5 252.8,324.8 253.5,336 232,333"/>
<polygon class="l" points="157.8,204.8 169,207.2 162.8,238.5 160.2,253.5 154,262.2 150.2,263.5 150.2,266.5 144.5,264.8"/>
<polygon class="y" points="115.2,211 132.8,215.5 129.5,231 101.5,226 107.8,222.2 112.8,216"/>
<polygon class="y" points="114,241 120.2,239.8 124,237.2 126.5,243.5 124,251 114,252.2 112.8,246"/>
<polygon class="b" points="114,253.5 127.8,251 124,257.2 119,263.5 115.2,266 112.8,259.8"/>
<polygon class="y" points="126.5,261 139,259 144,264.8 142.8,271 136.5,274.8 124,273.5 120.2,281 110.2,278.5 105.2,261 115.2,266.5 120.2,263.5"/>
<polygon class="y" points="85.2,258.5 94,257.2 101.5,266 105.2,261 110.2,278.5 120.2,281 117.8,298.5 110.2,299.8 109,293.5 101.5,292.2 96.5,294.8 93.5,286 95.2,278.5 89,273.5 87.8,266"/>
<polygon class="b" points="99,262.2 103.5,261 104.5,272.2 100.2,274.8 97.8,268.5"/>
<polygon class="l" points="112.8,301 117.8,299 127.8,296 129.5,304.8 122.8,308.5 116.5,309.8 112.8,306"/>
<polygon class="l" points="124,307.2 129.5,304.8 139,302.2 146.5,297.2 151.5,303.5 144,306 137.8,312.2 127.8,312.2"/>
<polygon class="l" points="361.2,208.5 383.8,211.5 382,234 358.8,231"/>
<polygon class="b" points="518.8,212.2 535,212.2 535.5,228.5 528.8,228.5 527.5,224.8 521.2,224.8 520,218.5"/>
<polygon class="b" points="531.2,229.8 535,229 538.8,233 546.2,232.2 548.8,247.2 528.8,246.5 527.5,238.5"/>
<polygon class="y" points="392.5,253 411.2,254.8 411.2,268 391.2,266.5"/>
<polygon class="y" points="377,266.5 395,267.2 396.2,274.8 393.8,283.5 383.8,283.5 381.2,276"/>
<polygon class="y" points="396.2,268 418.8,269.8 417.5,278.5 408.8,279.8 407.5,289.8 394.5,289.8 395,276"/>
<polygon class="y" points="383.8,283.5 393.8,283.5 393,289.8 383.8,289.8"/>
<polygon class="y" points="380,291 415,290.5 414.5,311 412.5,316 407.5,315.5 407,309.8 385.5,308.5 385,317.2 375,316 375.5,309.8 372,307.2 372.5,302.2 378.8,299.8"/>
<polygon class="s" points="385.5,309 407,310.2 406.5,323 390.5,322.2 386.2,316.5"/>
<polygon class="b" points="390.5,322.8 406.5,323.5 405,340.5 397.5,337.2 388.8,335.5"/>
<polygon class="l" points="325,296 345,298 352.5,299.8 343.8,304.8 335,308 332.5,315.5 322.5,313.5"/>
<polygon class="y" points="498.8,266 505,265.5 506.2,268.5 513.8,266.5 513.8,280.5 498.8,280.5"/>
<polygon class="y" points="521.2,273.5 535,273.5 535.5,284.8 527.5,284.8 527,281 520.8,280.5"/>
<polygon class="l" points="528.8,264.8 537.5,263.5 538,258.5 542.5,255.5 550,256 550.5,262.2 557,263 556.2,272.2 551.2,273.5 550,279 536.2,279 535.5,273.5 530,273"/>
<polygon class="y" points="560,293.5 566.2,293 567.5,295.5 572.5,295.5 573,301 566.2,302.2 565.8,306 556.2,306 555,299.8 559.5,299"/>
<polygon class="y" points="527.5,306 542.5,305.5 541.2,312.2 536.2,316 532.5,316.5 531.2,312.2 527.5,312.2"/>
<polygon class="l" points="542.5,305.5 546.2,303.5 550,304 551.2,309 556.2,309.8 557,317.2 552,318.5 551.5,330.5 545,330.5 544.5,323.5 537.5,323.5 535.5,316.5 541.2,312.8"/>
<polygon class="l" points="515,337.2 524.5,336.5 525,338.5 533.8,338.5 534.5,352.2 523.8,353 523,361.5 512.5,361 512,353 501.2,352.2 502,346 514.5,345.5"/>
<polygon class="l" points="667.7,205.5 673.4,205.5 673,212.4 667.9,212.4"/>
<polygon class="c" points="702.3,160.2 704.8,159.6 705.4,164 702.9,164.6"/>
<polygon class="b" points="590.5,203.7 598,203 598.7,198.6 603.1,198 606.8,199.9 606.2,203.7 613.8,208.1 618.2,205.5 623.2,205.5 623.6,211.8 618.8,212.5 618.2,217.5 599.9,218.1 599.7,211.8 590.5,211.2"/>
<polygon class="l" points="668.5,206.2 673.5,206.2 673.2,212.5 668.5,212.5"/>
<polygon class="b" points="649.6,230.1 659.1,229.5 659.3,236.4 661,237 660.6,243.9 650.3,243.9 650,237"/>
<polygon class="y" points="659.7,237 666.6,236.4 669.8,233.9 675.4,233.2 676.7,237.6 679.8,246.4 683,252.1 686.8,254 690.5,252.7 691.2,261.6 691.8,272 683,272 681.7,267.8 671,267.8 670.4,266.6 665.4,266.6 664.7,256.5 658.4,255.9 657.8,246.4 660.6,243.9"/>
<polygon class="b" points="671,264.1 681.7,262.2 682.4,273.5 671,273.5"/>
<polygon class="l" points="621.9,236.4 628.2,236.4 629.5,242.7 622.6,243.3"/>
<polygon class="b" points="695.6,212.5 701.9,212.5 702.5,216.2 704,216.9 704,220 698.7,220 696.2,216.2"/>
<polygon class="l" points="598.7,232 606.2,232 606.5,243.9 596.1,244.6 595.9,246.4 591.7,246.4 591.7,239.5 598.7,239.1"/>
<polygon class="l" points="603.7,245.2 625.7,244.6 626.3,250.2 618.8,252.7 604.3,254"/>
<polygon class="l" points="580.8,247.7 588.3,247.7 588.3,254.6 580.8,254.6"/>
<polygon class="y" points="611.2,254 618.2,254 617.5,268.5 610,268.5 610.2,261.6 611.5,260.9"/>
<polygon class="b" points="626.3,255.9 635.2,255.3 638.9,257.8 644,258.4 644,267.2 635.2,267.8 631.4,270.4 625.7,269.7 623.8,266.6 624.5,262.8 627.6,261.6"/>
<polygon class="b" points="722.9,202.4 729.2,201.1 729.8,197.4 732.3,198.6 734.2,203 738,203.7 738.2,211.2 736.1,215.6 729.2,216 727.9,208.1 723.5,208.7"/>
<polygon class="y" points="738.6,211.8 743,211.2 744.3,209.3 748.1,209.9 749.3,211.8 757.5,211.2 759.4,217.5 756.9,224.4 753.7,229.5 751.2,235.1 748.7,237 744.3,236.4 744.3,237.6 735.2,237.9 734.8,231.3 734.2,225.1 736.1,223.8 741.8,222.5 742.4,217.5 741.8,213.1"/>
<polygon class="l" points="736.1,213.7 741.8,213.1 742.4,218.8 740.5,221.9 736.5,221.9"/>
<polygon class="b" points="721.6,218.1 728.5,216.9 729.2,223.2 734.2,225.1 734.8,231.3 734.2,238.9 726,239.5 725.4,232 719.1,232.4 718.5,225.1 721.6,224.4"/>
<polygon class="b" points="716,233.9 725.4,232.6 726,239.5 716.6,240.8"/>
<polygon class="l" points="741.8,238.3 748.7,237 747.4,243.9 745.5,245.2 741.8,245.2"/>
<polygon class="l" points="732.3,247.7 741.8,245.8 748.1,246.4 748.7,256.5 742.4,257.5 741.1,251.5 737.4,252.1 732.9,250.2"/>
<polygon class="b" points="734.2,265.3 742.4,263.4 743,269.1 734.8,269.7"/>
<polygon class="b" points="761.3,259.7 765,258.4 768.2,267.8 764.4,269.1 762.5,264.7"/>
<polygon class="y" points="766.3,250.2 769.4,246.4 775.7,245.2 782,239.5 786.4,238.3 787.1,243.9 786.4,247.7 778.3,249.6 777.6,256.5 772.6,257.8 769.4,256.5 766.9,255.3"/>
<polygon class="b" points="793.4,232.6 799.7,227.6 804.1,224.4 806,229.2 807.2,232.6 794.6,235.1"/>
<polygon class="l" points="788.3,243.9 803.4,242.7 804.1,249 801.5,249.6 802.2,255.9 797.1,256.5 796.5,251.5 794,251.5 793.4,256.5 789,256.5"/>
<polygon class="b" points="778.3,249.6 786.4,248.3 788.3,250.2 788.6,256.5 784.6,256.5 779.5,258.4 777.6,256.5"/>
<polygon class="l" points="779.5,258.4 784.6,256.5 788.6,256.5 789.6,261.6 792.1,262.8 791.5,266.6 787.1,267.2 785.8,262.8 780.1,263.4"/>
<polygon class="l" points="655.9,279.6 659.7,275.8 665.4,275.8 667.9,278.9 668.5,284.6 666,286.5 664.1,290.9 658.4,290.9 656.6,285.8"/>
<polygon class="l" points="669.1,278.9 672.9,278.3 673.5,280.2 683.6,279.6 684.2,292.8 677.3,293.1 669.8,294.7 664.7,295.3 664.1,290.9 666,286.5 668.5,284.6"/>
<polygon class="b" points="658.4,291.5 664.1,290.9 664.7,299.1 658.4,299.4"/>
<polygon class="l" points="644,290.9 649.6,290.3 651.5,294 656.6,294.4 654.7,297.2 651.5,301.6 645.2,302.2 644,297.2"/>
<polygon class="b" points="684.5,287.7 686.8,288.4 687.4,298.4 694.3,299.1 694.9,303.5 691.2,308.5 690.8,313.5 687.4,314.2 684.9,309.8 684.5,297.2"/>
<polygon class="y" points="624.5,312.3 633.9,311.6 634.5,312.9 641.4,309.8 642.1,304.7 649,304.1 649.6,313.5 657.8,314.2 658.4,319.8 659.7,323 656.6,326.1 651.5,327.4 649,332.4 644.6,333 644,335.6 637,337.4 633.3,333.7 623.2,334.3 622.6,327.4 621.6,321.7 624.5,319.8"/>
<polygon class="y" points="603.1,312.3 609,312 609.4,315.4 617.3,315.4 617.5,332.2 609.4,332.4 603.1,330.5 597.4,326.8 598,324.9 601.2,323.6 601.8,317.3"/>
<polygon class="y" points="681.1,329.9 688,330.5 694.9,328.6 696.2,331.2 693.1,334.9 693.7,340 689.9,342.5 685.5,340.6 681.7,337.4"/>
<polygon class="b" points="716.6,278.3 722.3,278 722.6,284.6 716.6,284.8"/>
<polygon class="l" points="735.5,280.6 741.8,280.2 742.4,282.7 749.9,282.3 749.6,292.8 736.1,293.4"/>
<polygon class="y" points="727.3,292.1 730.4,291.5 730.7,295.3 744.3,294 744.9,299.1 747.4,300.3 748.1,304.7 751.2,305.4 751.8,311 746.8,313.5 739.2,316.1 737.4,314.8 731.1,312.3 727.3,311 726.7,301.6 727.9,300.9"/>
<polygon class="y" points="707.8,316.1 716.6,312.9 720.4,316.1 724.8,314.8 731.1,319.2 729.8,326.1 725.4,331.2 720.4,333.7 715.3,331.2 709.7,329.9 708.4,323.6"/>
<polygon class="y" points="707.8,331.2 715.3,332.4 719.7,334.9 724.1,341.9 720.4,343.1 714.1,342.5 711.6,338.7 707.8,334.9"/>
<polygon class="y" points="737.4,320.5 741.8,321.7 746.8,320.5 748.7,327.4 747.4,331.2 741.8,331.8 739.2,334.3 734.8,331.2 734.2,326.1"/>
<polygon class="l" points="761.9,311 766.9,309.8 768.8,306.6 772.6,309.1 779.5,309.8 784.6,307.9 785.8,313.5 784.6,319.8 779.5,322.3 777,325.5 773.2,323.6 769.4,319.2 765.7,316.1"/>
<polygon class="b" points="784.6,309.8 792.1,309.1 797.1,306 800.3,309.1 797.1,313.5 794.6,318.6 792.1,322.3 789.6,326.1 784.6,323 784.6,319.8 785.8,313.5"/>
<polygon class="l" points="794.6,318.6 797.8,315.4 801.5,317.3 803.4,322.3 800.9,327.4 797.1,330.5 794,327.4 791.5,324.9"/>
<polygon class="y" points="783.3,294.7 787.1,290.9 790.8,292.8 792.7,298.4 789.6,301.6 785.8,300.3"/>
<polygon class="b" points="804.1,280.8 811,280.2 817.9,278.9 819.8,288.4 814.8,290.3 811,285.8 807.2,283.3"/>
<polygon class="y" points="813.5,326.1 818.5,322.3 822.3,321.7 823.6,327.4 821.7,331.8 826.1,337.4 825.5,342.5 819.8,343.1 817.3,337.4 814.8,332.4"/>
<polygon class="s" points="803.4,333.7 808.5,331.2 813.5,332.4 816.6,337.4 816,343.7 811.6,346.3 807.2,343.7 804.1,338.7"/>
<polygon class="y" points="850.9,187.9 854,183.5 860.9,182.3 862.2,188.6 868.5,196.1 872.3,197.4 871,201.1 863.5,202.4 855.9,201.8 852.8,197.4 852.1,192.3"/>
<polygon class="y" points="887.4,182.3 896.2,181.6 897.4,188.6 903.1,189.2 903.7,198.6 888.6,204.9 883.6,201.8 882.3,196.7 889.3,194.8 889.9,186"/>
<polygon class="l" points="922,189.8 931.4,188.6 934.6,193.6 936.5,200.5 932.1,203 932.7,209.9 926.4,211.2 925.8,203.7 922.6,196.1"/>
<polygon class="l" points="910.7,198 922,196.7 924.5,201.1 925.1,203.7 912.6,205.5 911,201.1"/>
<polygon class="b" points="904.4,193 909.4,192.3 910.7,198 911,206.8 905,207.7"/>
<polygon class="y" points="913.8,206.8 925.1,204.9 925.8,211.2 924.5,215 925.8,218.8 922.6,220.6 920.1,216.2 915.7,215"/>
<polygon class="b" points="925.8,211.8 932.7,210.6 934.6,216.2 927.7,218.8 925.1,215.6"/>
<polygon class="y" points="912.6,217.5 915.7,215.6 920.1,216.9 922,221.3 917.6,223.2 913.8,222.5"/>
<polygon class="y" points="907.5,221.3 912.6,220 914.4,224.4 910,228.2 907.5,229.5"/>
<polygon class="y" points="903.7,240.2 906.3,234.5 913.8,230.7 922.6,226.3 930.2,223.2 935.5,222.3 933.3,225.7 927.7,229.5 922.6,232 917.6,235.4 912.6,237.9 906.3,240.4"/>
<polygon class="b" points="875.4,233.9 879.8,231.3 883.6,233.9 888.6,236.4 889.3,240.2 886.1,246.4 882.3,251.5 878.6,256.5 875.4,257.1 869.8,255.3 867.2,252.7 872.3,249 873.5,243.9 872.3,240.2"/>
<polygon class="b" points="842.1,233.9 852.8,230.1 855.9,233.9 860.3,235.8 863.5,235.1 865.4,238.9 866,243.9 862.8,245.2 857.8,242.7 855.3,240.2 850.9,242.7 845.8,238.9"/>
<polygon class="l" points="863.5,226.3 874.8,225.1 876.7,228.8 876.1,232.6 872.3,240.2 865.4,240.8 863.5,235.1"/>
<polygon class="b" points="884.9,211.8 891.2,209.3 897.4,208.7 898.1,218.8 892.4,220 889.3,216.2"/>
<polygon class="b" points="849,215.6 855.3,214.4 855.9,211.8 860.3,210.6 866,209.9 866.6,212.5 872.9,212.5 873.5,216.9 867.2,218.1 855.9,219.4 849.6,220.6"/>
<polygon class="l" points="852.1,207.4 857.8,206.8 858.4,211.2 855.9,211.8 855.3,214 852.4,214"/>
<polygon class="l" points="832,254 834.5,249 837.7,242.7 843.3,244.6 849,245.2 847.1,250.2 840.8,252.7 835.8,253.4"/>
<polygon class="l" points="861.6,252.7 866.6,253.4 869.8,255.9 864.7,259.7 862.8,259"/>
<polygon class="b" points="891.2,249.6 894.9,248.3 897.4,251.5 894.3,253.4 891.8,252.7"/>
<polygon class="s" points="844.6,280.9 850.9,278.4 852.8,274 857.2,278.4 859.1,280.9 867.2,286.5 869.8,291.6 871,294.1 867.2,298.5 864.7,299.8 862.2,302.3 859.1,304.8 855.9,309.8 852.1,307.3 850.9,303.5 845.8,301 842.7,296 841.4,291.6 843.3,287.2"/>
<polygon class="s" points="832,280.9 837,280.9 842.1,284.7 841.4,288.4 835.8,289.7 832,289.1"/>
<polygon class="l" points="840.8,277.1 844.6,274.6 850.9,273.3 852.8,274 850.9,278.4 844.6,280.9 842.1,282.1"/>
<polygon class="l" points="896.2,272.7 899.3,273.3 897.4,278.4"/>
<polygon class="l" points="882.3,275.8 886.1,274.6 888.1,279 890.3,282.9 893.9,285.5 896.4,288.4 896.8,294.7 894.9,301 891.2,303.5 887.4,303.5 885.5,298.5 886.1,292.2 884.9,287.2 883,280.9"/>
<polygon class="y" points="874.8,272.7 877.3,275.2 880.5,284.7 882.3,289.7 881.7,294.7 883.6,299.8 881.1,297.2 879.2,292.2 878.6,285.9 876.1,279.6"/>
<polygon class="l" points="867.9,298.5 871,296.6 874.8,299.8 877.3,305.4 873.5,304.8 869.8,303.5"/>
<polygon class="s" points="836.4,310.5 839.6,305.4 844.6,309.8 848.4,316.1 847.1,322.4 844,327.4 839.6,324.9 834.5,319.9"/>
<polygon class="y" points="859.1,304.8 862.8,306.7 864.7,312.3 869.8,316.1 873.5,317.4 872.3,323.7 874.8,327.4 872.3,330 869.8,332.5 866,337.5 862.2,335 858.4,333.7 854.7,330 850.9,327.4 849,324.9 850.3,318.6 854,316.1 855.9,310.5"/>
<polygon class="s" points="872.3,318.6 874.8,316.1 878.6,317.4 881.1,322.4 882.3,324.9 886.1,326.8 889.3,330 891.8,335 889.9,337.5 886.1,336.3 882.3,338.8 881.1,342.6 877.3,343.2 874.2,340 874.8,332.5 875.4,327.4 872.9,323.7"/>
<polygon class="s" points="769.3,374.5 773.7,370.1 777.4,367.5 781.8,370.1 785.6,374.5 786.3,380.8 782.5,385.2 777.4,383.3 773,381.4 769.9,378.2"/>
<polygon class="s" points="858.6,364.4 863,363.8 863.7,371.3 858,371.3"/>
<polygon class="y" points="856.1,352.4 861.1,351.2 866.2,351.8 868.7,355.6 867.4,359.4 863.7,360.6 858.6,359.4 856.7,356.2"/>
<polygon class="y" points="867.4,359.4 872.5,356.8 875,360.6 873.7,365.7 870,366.3 866.8,363.1"/>
<polygon class="y" points="871.2,366.9 876.2,365.7 881.3,366.3 886.3,368.2 883.8,373.2 878.8,376.4 872.5,375.7 869.3,371.9"/>
<polygon class="s" points="868.7,376.4 872.5,375.7 876.2,377.6 877.5,380.8 873.7,384.5 870.6,382"/>
<polygon class="r" points="860.5,384.5 863.7,382 870,382 872.5,385.8 870,390.8 868.7,395.9 867.4,399.6 861.1,402.2 856.1,404.7 852.3,408.4 849.8,410.3 845.4,405.9 843.5,402.2 846,397.1 851.1,399.6 856.1,400.3 858.6,395.9 862.4,393.3 863.7,389.6 861.1,387.7"/>
<polygon class="s" points="837.2,377.6 843.5,374.5 849.8,373.2 851.7,378.2 853.6,380.8 846,382 841,383.9 837.9,380.8"/>
<polygon class="y" points="791.3,364.4 802,363.1 807,363.8 808.3,372.6 799.5,373.8 793.2,374.5 790.4,369.4"/>
<polygon class="r" points="807,361.9 812.1,363.1 820.9,367.5 822.1,370.7 819.6,374.5 818.3,378.2 822.1,379.5 822.8,385.8 820.9,387.1 819.6,393.3 815.8,395.2 804.5,395.2 802,390.8 803.2,384.5 800.7,377 800.1,374.5 808.3,372.6"/>
<polygon class="s" points="777.4,387.1 786.9,385.2 788.8,385.8 793.8,393.3 799.5,397.1 797.6,400.9 792.5,402.2 786.9,402.2 781.8,405.9 778.7,398.4 776.2,393.3"/>
<polygon class="s" points="788.8,385.8 793.2,384.5 798.2,388.3 802,390.8 803.2,395.9 799.5,397.1 793.8,393.3"/>
<polygon class="s" points="804.5,395.9 815.8,395.2 819.6,393.3 823.4,397.1 820.9,402.2 819.6,408.4 820.9,413.5 822.8,416 818.3,416 809.5,412.9 802,411 796.9,408.4 798.8,404.7 804.5,405.3 805.8,400.9"/>
<polygon class="s" points="827.2,394.6 832.2,392.7 836,395.9 838.5,400.9 842.3,405.9 836.6,407.2 831.6,403.4 828.4,399.6"/>
<polygon class="s" points="820.9,403.4 827.2,404.7 830.9,405.9 826.5,409.7 820.9,411"/>
<polygon class="s" points="770.5,408.4 775.6,407.8 780.6,412.2 778.1,418.5 773,419.8 768,414.7"/>
<polygon class="y" points="644.4,346.8 655.1,346.1 656.4,350.6 658.9,353.1 659.5,356.8 655.1,355.6 652,353.7 648.8,356.2 645,357.5 643.8,353.1"/>
<polygon class="y" points="760.8,366.9 765.9,365 767.1,369.4 762.7,371.3"/>
<polygon class="s" points="660.8,383.3 663.3,380.8 667.1,383.9 672.7,383.9 674.6,388.9 678.4,390.8 675.2,392.7 672.1,395.2 669.6,391.5 665.8,390.8 664.5,386.4"/>
<polygon class="r" points="641.9,395.9 645,392.7 650.1,390.8 652.6,388.9 657,389.6 658.3,393.3 664.5,394 665.2,401.5 667.1,404.7 665.8,410.3 658.9,411.6 651.3,412.9 645,416 641.9,413.5 641.9,405.9"/>
<polygon class="s" points="724.3,392.1 728.1,389.6 729.4,384.5 734.4,387.1 738.8,386.4 739.4,393.3 738.2,397.1 736.9,403.4 731.9,404.7 730,398.4 724.3,395.9"/>
<polygon class="s" points="739.4,388.9 750.8,388.3 751.4,394 740.1,394.6"/>
<polygon class="y" points="739.4,396.5 745.7,395.9 746.4,402.2 740.7,403.4 738.2,400.9"/>
<polygon class="y" points="733.8,411 739.4,408.4 740.7,414.7 735,416"/>
<polygon class="s" points="759.6,404.7 764,403.4 765.2,409.7 760.8,411"/>
<polygon class="s" points="684.7,401.5 699.2,400.9 699.8,403.4 696,405.3 695.4,408.4 685.1,409.1"/>
<polygon class="s" points="700.4,400.3 715.5,399 716.1,408.4 711.7,409.1 707.3,407.2 701.7,404.7"/>
<polygon class="s" points="696,405.9 699.8,404 707.3,407.8 712.4,409.7 711.7,413.5 696,414.1"/>
<polygon class="y" points="718.7,416 723.1,414.1 726.8,415.4 728.1,419.8 723.7,421.7 720.6,420.4"/>
<polygon class="s" points="723.7,421.7 728.1,419.8 731.3,421 730.6,426.1 726.8,428 723.7,426.1"/>
<polygon class="s" points="559.5,393.3 568.9,391.5 580.3,390.2 577.8,395.9 578.4,402.2 575.2,405.9 571.5,407.2 570.8,416.6 563.3,417.3 560.1,412.2 562,407.2 563.3,398.4"/>
<polygon class="r" points="157,397 164,398.2 180.2,404 177.8,419.5 157.8,417.5 157,413.2 158.5,407"/>
<polygon class="y" points="180.2,404 204,407 207.8,410.8 205.2,416.5 201,422 177.8,419.5"/>
<polygon class="r" points="214,409.5 229,412 227.8,433.2 225.2,440.8 201,427 201,422 205.2,416.5 211.5,415.8"/>
<polygon class="r" points="232.8,400.8 251.5,403.2 262.8,404.5 267.8,413.2 271.5,415.8 275.2,425.8 280.2,428.2 277.8,440.8 227.8,433.2 229,412"/>
<polygon class="r" points="227.8,433.2 277.8,441.5 276.5,458.2 264,457.5 259,459.5 225.2,440.8"/>
<polygon class="s" points="277.8,444 302.8,445.8 301,469.5 275.2,465.8 276.5,458.2"/>
<polygon class="c" points="110.2,373.2 117.8,372.8 125.2,375.8 124,377 116.5,375.5 111,375"/>
<polygon class="c" points="136.5,389.5 139,390 140.2,396.5 137.8,395.8"/>
<polygon class="c" points="133.5,400.8 136,401.5 137.8,406.5 134.8,405.8"/>
<polygon class="c" points="117.8,390.8 121,392 120.5,394 118,393"/>
<polygon class="s" points="336.2,444.5 353.8,439.5 352.5,461.5 347.5,462 335,465"/>
<polygon class="r" points="347.5,462 378.8,464.5 377.5,495.8 370,490.8 362.5,483.2 352.5,472"/>
<polygon class="s" points="420,389 453.8,390 452.5,409.5 433.8,409 433.8,398.2 419.5,397"/>
<polygon class="r" points="433.8,429.5 452.5,430 452,439.5 442.5,440 442,448.2 432.5,447.8"/>
<polygon class="r" points="417.5,466.5 428,466.5 429.5,457.5 438,457.5 437,475.8 427.5,476.2 417.5,475.8"/>
<polygon class="r" points="467.5,450 477,450 477.5,459.5 486.2,459.5 485.8,469.5 467,469.5"/>
<polygon class="r" points="445,480 455,479.5 455.5,477 466.2,477 467,489.5 445,490"/>
<polygon class="y" points="493,410 504.5,409.5 505,424.5 496.2,425 495,417"/>
<polygon class="s" points="490,424.5 506.2,425 507,439.5 490.5,439"/>
<polygon class="s" points="526.2,432 535.5,432 536.2,440.8 527,441.5"/>
<polygon class="r" points="502.5,390.8 513.8,390 514.5,380.8 520,381.5 520.5,385.8 532.5,386.5 532,395.8 525,396.5 524.5,408.2 513.8,409 513,413.2 506.2,413.2 505.5,398.2 502.5,397"/>
<polygon class="r" points="551.2,458.2 560,459.5 561.2,469.5 553.8,469"/>
<polygon class="s" points="558.8,452.5 566.2,452.5 567.5,462 571.2,470.8 570.8,475 563.8,474.5 562.5,467 560,459.5"/>
<polygon class="r" points="510,543.2 526.2,535.8 531.2,543.2 522.5,550.8 513.8,549.5"/>
<polygon class="w" points="563.8,522 567,521.5 567.5,527.5 564.5,528.2"/>
<polygon class="s" points="579.8,449.5 594,449.5 594.8,459 589.8,464 591,474 583.5,475.2 581,464"/>
<polygon class="r" points="603,449 613.5,449 618,454 617.2,462.8 611,464 608,456.5 603.5,454"/>
<polygon class="s" points="601,477.8 609.8,475.2 616,484 613.5,491.5 608.5,495.2 603,494 602.2,485.2"/>
<polygon class="s" points="641,449 648.5,447.8 657.2,449 658.5,459 661,472.8 642.2,475.2 640.5,461.5"/>
<polygon class="y" points="662.2,480.2 677.2,479.5 677.2,491 662.2,491"/>
<polygon class="s" points="587.2,507.8 598.5,506.5 601,514 607.2,515.2 607.2,522.8 598.5,520.2 586,521.5"/>
<polygon class="r" points="623.5,492 646,492 647.2,505.2 651,505.2 656,497.8 661,499 667.2,506.5 669.8,510.2 662.2,515.2 666,521.5 672.2,526.5 676,530.2 669.8,534 658.5,526.5 651,531.5 641,532.8 633.5,527.8 636,520.2 626,516.5 619.8,521.5 608.5,522.8 608,505.2 616,504 623.5,506.5"/>
<polygon class="c" points="626,516.5 636,520.2 633.5,524 627.2,521.5"/>
<polygon class="s" points="646,492 651,492 652.2,505.2 647.2,505.2"/>
<polygon class="s" points="663.5,499 684.8,495.2 686,501.5 678.5,504 671,506.5 667.2,506.5"/>
<polygon class="r" points="693.5,485.2 698.5,481.5 701,487.8 716,486.5 717.2,485.2 729.8,485.2 733.5,494 739.8,496.5 748.5,499 751,506.5 748.5,510.2 743.5,504 736,499 726,496.5 716,497.8 706,499 698.5,501.5 694.8,499"/>
<polygon class="s" points="686,486 693.5,485.2 693.5,499 687.2,501.5"/>
<polygon class="s" points="727.2,484 739.8,477.8 741,469 746,467.8 747.2,482.8 748.5,486.5"/>
<polygon class="s" points="753.5,488.5 776,487 771,496.5 766,500.2 761,501.5 756,495.2"/>
<polygon class="s" points="711,449 727.2,447 728.5,462.8 712.2,464"/>
<polygon class="s" points="733.5,446.5 741,444 743.5,441.5 751,442.8 752.2,447.8 756,449 754.8,455.2 746,456.5 741,459 738.5,451.5"/>
<polygon class="y" points="761,433.5 772.2,432 776,442.8 769.8,445.2 763.5,444 760.5,440.2"/>
<polygon class="s" points="766,445.2 772.2,444 776,452.8 769.8,454"/>
<polygon class="s" points="754.8,462.8 766,460.2 772.2,469 767.2,472.8 761,471.5 758.5,477.8 754.8,471.5"/>
<polygon class="r" points="813.9,437.8 818.3,434.7 823.4,436 828.4,438.5 825.9,442.9 822.1,448.5 818.3,447.9 816.5,442.9"/>
<polygon class="y" points="808.9,440.4 813.9,439.7 816.5,444.1 818.3,447.9 821.5,449.2 819.6,454.2 817.1,455.5 812.1,451.7 806.4,449.8 809.5,446"/>
<polygon class="s" points="805.1,452.3 811.4,454.2 817.1,456.7 817.7,460.5 816.5,466.8 815.8,471.8 810.2,471.2 804.5,473.7 800.7,472.5 801.4,469.9 808.3,466.8 810.2,461.8 803.9,458"/>
<polygon class="s" points="773.7,478.8 783.1,476.9 785.6,474.3 787.5,479.4 794.4,483.2 795.1,485.7 773.7,486.3"/>
<polygon class="c" points="809.5,504.4 818.3,504.4 817.7,508.1 813.3,507.5"/>
<polygon class="c" points="815.2,547.8 823.4,547.2 824,559.1 816.5,559.8"/>
<polygon class="s" points="825.3,546.5 830.9,545.9 833.4,551.6 836.6,553.5 830.9,557.9 825.9,557.9"/>
<polygon class="c" points="830.9,545.9 833.4,545.3 841,545.9 841.6,552.8 839.7,557.9 840.4,573.6 834.1,574.2 833.4,569.8 828.2,569.2 827.8,559.1 830.9,557.9 836.6,553.5 833.4,551.6"/>
<polygon class="c" points="836.6,584.9 843.5,583.6 844.8,595.6 842.3,597.5 839.7,596.2 839.1,593.1 837.9,589.9"/>
<polygon class="c" points="829.7,611.3 833.4,607.5 838.5,606.5 840.4,608.2 836,610.1 832.2,611.9"/>
<polygon class="b" points="199.5,578.8 209,577 220.2,579.5 219,583 210.2,584.5 201.5,583.8"/>
<polygon class="b" points="179,593.8 194,591.2 207.8,591.2 207,600 200.2,606.2 199,611.2 195.2,608.8 190.2,605 179,603.8 177.8,598.8"/>
<polygon class="r" points="344.7,586.7 348.6,585.2 350.2,583.1 352.5,585.6 356.4,588.3 358,590.9 354.1,591.4 350.2,591.9 347.8,589.8"/>
<polygon class="s" points="365.3,590.9 371.2,589.8 375.9,589.1 376.7,590.9 371.2,592.2 365.8,593.4"/>
<polygon class="s" points="371.2,595.6 375.2,595.3 376.2,597.7 373.6,599.2 371.6,597.7"/>
<polygon class="s" points="378.3,593 380.6,591.9 383,594.5 386.9,592.5 391.6,593.8 392.8,596.1 390,598.8 385.3,600 383.4,597.7 379.8,596.1"/>
<polygon class="r" points="509.7,544.8 515.2,540.9 523.8,536.2 527.7,538.6 530,543.3 525.3,547.2 519.1,548 513.6,549.5"/>
<polygon class="r" points="506.6,557.3 514.4,555.8 520.6,558.9 517.5,563.6 519.1,567.5 514.4,568.3 506.6,567.5 505.8,562"/>
<polygon class="r" points="463.6,554.2 476.9,554.2 477.7,558.1 488.6,558.1 488.6,574.5 476.9,574.1 474.5,574.5 471.4,567.5 467.5,561.2"/>
<polygon class="r" points="497.2,586.2 503.4,585.9 504.2,592.5 506.6,593.3 506.6,600.3 501.9,601.1 495.6,598.8 492.5,596.4"/>
<polygon class="s" points="506.6,596.4 515.2,595.6 519.8,598 520.6,603.4 515.9,605.8 509.7,602.7 506.6,600.3"/>
<polygon class="b" points="263.6,190.9 270.5,187.8 271.7,179.6 277.4,179.6 278,185.2 290,185.2 292.5,190.3 297.5,194.1 305.1,198.5 304.5,210.4 296.9,209.2 295,202.9 290,200.3 283.1,197.8 281.2,194.1 276.1,199.1 268.6,198.5 265.4,195.3"/>
<polygon class="r" points="495.7,488.5 513.4,479.1 517.8,485.4 522.8,491.7 517.8,495.4 511.5,496.7 507.1,492.9 498.9,492.9"/>
<polygon class="r" points="514.6,480.3 524.1,475.9 531.6,488.5 523.4,492.3 517.8,485.4"/>
<polygon class="r" points="529.7,491.7 537.3,487.3 541,505.5 535.4,509.3 527.8,506.1 526.6,499.9 531.6,498.6"/>
<polygon class="r" points="507.1,498 514,497.3 520.3,503 523.4,510.6 517.8,518.1 510.2,521 505.2,516.8 501.4,510.6"/>
<polygon class="r" points="509.6,442 536,442.6 545.4,442 544.8,453.9 542.3,455.8 541,463.4 535.4,466.5 527.2,470.3 517.8,467.1 509.6,469 505.8,457.1 507.1,450.1"/>
</g>
<g id="county">
<polyline points="101.5,294.8 114,321 117.8,326 122,329.8" fill="none" stroke="#0e1216" stroke-width="1.1"/>
<polyline points="104,331 120.2,337.2 164,347.2" fill="none" stroke="#0e1216" stroke-width="1.1"/>
<polyline points="124,337.2 127.8,351 131.5,361" fill="none" stroke="#0e1216" stroke-width="1.1"/>
<polyline points="127.8,351 162.8,361" fill="none" stroke="#0e1216" stroke-width="1.1"/>
<polyline points="165.2,347.2 162.8,361 159,381.8" fill="none" stroke="#0e1216" stroke-width="1.1"/>
<polyline points="139,362.2 141.5,381" fill="none" stroke="#0e1216" stroke-width="1.1"/>
<polyline points="136,323.5 139,318.5 156.5,318.5" fill="none" stroke="#0e1216" stroke-width="1.1"/>
<polyline points="134,331 159,333.5" fill="none" stroke="#0e1216" stroke-width="1.1"/>
<polyline points="94,257.2 97.8,276 101.5,292.2" fill="none" stroke="#0e1216" stroke-width="1.1"/>
<polyline points="104.5,272.2 110.2,278.5 109,293.5" fill="none" stroke="#0e1216" stroke-width="1.1"/>
<polyline points="95.2,278.5 110.2,278.5" fill="none" stroke="#0e1216" stroke-width="1.1"/>
<polyline points="656.6,199.9 668.5,199.9" fill="none" stroke="#0e1216" stroke-width="1.1"/>
<polyline points="662.8,191.7 662.8,211.8" fill="none" stroke="#0e1216" stroke-width="1.1"/>
<polyline points="668.5,190.4 668.5,206.2" fill="none" stroke="#0e1216" stroke-width="1.1"/>
<polyline points="649.6,237 660.6,237" fill="none" stroke="#0e1216" stroke-width="1.1"/>
<polyline points="654,230.1 654.3,243.9" fill="none" stroke="#0e1216" stroke-width="1.1"/>
<polyline points="734.8,231.3 744,230.7" fill="none" stroke="#0e1216" stroke-width="1.1"/>
<polyline points="744.3,222.5 756.9,224.4" fill="none" stroke="#0e1216" stroke-width="1.1"/>
<polyline points="749.3,211.8 748.7,222.5" fill="none" stroke="#0e1216" stroke-width="1.1"/>
<polyline points="729.2,223.2 718.5,225.1" fill="none" stroke="#0e1216" stroke-width="1.1"/>
<polyline points="725.4,232 726,239.5" fill="none" stroke="#0e1216" stroke-width="1.1"/>
<polyline points="605.6,313.5 609,316.1 608.1,323.6 604.3,322.3 603.1,319.8" fill="none" stroke="#0e1216" stroke-width="1.1"/>
<polyline points="742.4,282.7 742.4,288.4 749.6,288.1" fill="none" stroke="#0e1216" stroke-width="1.1"/>
<polyline points="892.4,218.8 889.3,236.4" fill="none" stroke="#0e1216" stroke-width="1.1"/>
<polyline points="882.3,251.5 905.6,255.3" fill="none" stroke="#0e1216" stroke-width="1.1"/>
<polyline points="875.4,262.8 891.2,261.6 903.1,267.8" fill="none" stroke="#0e1216" stroke-width="1.1"/>
<polyline points="879.8,231.3 882.3,240.2 886.1,246.4" fill="none" stroke="#0e1216" stroke-width="1.1"/>
<polyline points="822.1,350.6 823.4,370.1" fill="none" stroke="#0e1216" stroke-width="1.1"/>
<polyline points="831.6,348.7 832.8,368.2" fill="none" stroke="#0e1216" stroke-width="1.1"/>
<polyline points="836.6,348 837.5,359.4 843.5,358.7" fill="none" stroke="#0e1216" stroke-width="1.1"/>
<polyline points="156.5,397 154,390.8 159,379.5 155.2,373.2" fill="none" stroke="#0e1216" stroke-width="1.1"/>
<polyline points="180.2,404 211.5,397" fill="none" stroke="#0e1216" stroke-width="1.1"/>
<polyline points="244,370.8 249,380.8 255.2,382 261.5,388.2 266.5,397" fill="none" stroke="#0e1216" stroke-width="1.1"/>
<polyline points="284,370.8 281,397 279,428.2" fill="none" stroke="#0e1216" stroke-width="1.1"/>
<polyline points="361.2,375.8 362.5,395.8 372.5,395.8" fill="none" stroke="#0e1216" stroke-width="1.1"/>
<polyline points="428,466.5 427.5,476.2" fill="none" stroke="#0e1216" stroke-width="1.1"/>
<polyline points="701,487.8 699.8,499" fill="none" stroke="#0e1216" stroke-width="1.1"/>
<polyline points="716,486.5 717.2,497.8" fill="none" stroke="#0e1216" stroke-width="1.1"/>
<polyline points="729.8,485.2 728.5,496.5" fill="none" stroke="#0e1216" stroke-width="1.1"/>
<polyline points="802,512.6 809.5,510 817.1,511.3 822.1,517.6 828.4,523.9 836,527.7" fill="none" stroke="#0e1216" stroke-width="1.1"/>
<polyline points="799.5,518.8 805.8,520.1 809.5,519.5 813.3,530.2 828.4,541.5 836,542.8 848.6,544" fill="none" stroke="#0e1216" stroke-width="1.1"/>
<polyline points="813.3,530.2 814.6,547.8" fill="none" stroke="#0e1216" stroke-width="1.1"/>
<polyline points="799.5,526.4 809.5,527.7" fill="none" stroke="#0e1216" stroke-width="1.1"/>
<polyline points="804.5,550.3 815.2,547.8" fill="none" stroke="#0e1216" stroke-width="1.1"/>
<polyline points="841,560.4 856.1,557.9" fill="none" stroke="#0e1216" stroke-width="1.1"/>
<polyline points="841,560.4 843.5,580.5 845.4,593.1" fill="none" stroke="#0e1216" stroke-width="1.1"/>
<polyline points="822.1,578 827.2,573 834.1,574.2" fill="none" stroke="#0e1216" stroke-width="1.1"/>
<polyline points="815.2,564.2 827.2,560.4" fill="none" stroke="#0e1216" stroke-width="1.1"/>
<polyline points="836,527.7 837.2,542.8" fill="none" stroke="#0e1216" stroke-width="1.1"/>
<polyline points="809.5,519.5 808.3,507.5" fill="none" stroke="#0e1216" stroke-width="1.1"/>
<polyline points="858,587.4 856.7,594.9 852.3,601.2 846,606.3 841,608.8" fill="none" stroke="#0e1216" stroke-width="1.1"/>
<polyline points="136.5,100 150.2,120" fill="none" stroke="#0e1216" stroke-width="1.1"/>
<polyline points="120.2,121.2 146.5,130" fill="none" stroke="#0e1216" stroke-width="1.1"/>
<polyline points="117.8,133.8 145.2,138.8" fill="none" stroke="#0e1216" stroke-width="1.1"/>
<polyline points="125.2,118.8 129,137.5" fill="none" stroke="#0e1216" stroke-width="1.1"/>
<polyline points="109,141.2 124,145 126.5,160" fill="none" stroke="#0e1216" stroke-width="1.1"/>
<polyline points="124,145 144,147.5" fill="none" stroke="#0e1216" stroke-width="1.1"/>
<polyline points="150.2,103.8 147.8,120" fill="none" stroke="#0e1216" stroke-width="1.1"/>
<polyline points="194,105 195.2,123" fill="none" stroke="#0e1216" stroke-width="1.1"/>
<polyline points="204,108.8 199,115 204,123.8" fill="none" stroke="#0e1216" stroke-width="1.1"/>
</g>
<g id="ink" stroke="#1b1b1b" stroke-linejoin="round" stroke-linecap="round">
<polygon points="938.7,205.9 941.3,206.4 942.3,210.2 939.4,212" fill="#1b1b1b" stroke-width="0.8"/>
<polygon points="149.5,50 152,48.8 154,48.5 155.5,50.5 158,49.8 159,53 157.2,56 153.2,56.6 150.5,54" fill="#1b1b1b" stroke-width="0.8"/>
<polygon points="153.5,45 155,44.5 155.2,46 153.8,46.2" fill="#1b1b1b" stroke-width="0.8"/>
<polyline points="154,59.5 157.3,62.5 158.2,66.5 156.3,70 154.5,74" fill="none" stroke-width="2.6"/>
<polyline points="152.5,69 147.5,73.5 143.5,78.5 145,83 149,81.5 152.5,77 155,72" fill="none" stroke-width="2"/>
<polyline points="147,77 151,74.5 153,71" fill="none" stroke-width="1.6"/>
<polyline points="143,81 147,85 151,82" fill="none" stroke-width="1.4"/>
<polyline points="621,147 623,142 626,138.5 627.5,141 624.5,146 622,148.5" fill="none" stroke-width="1.8"/>
<polyline points="624,140 628,137" fill="none" stroke-width="1.4"/>
<polyline points="874.2,272.7 871,276.5 869.8,280.9 870.4,287.2 872.5,292.2" fill="none" stroke-width="2.6"/>
<polyline points="875.4,275.8 876.7,280.9 876.1,284.7 878.6,287.2 877.9,290.9 880.5,293.5 879.8,297.2 882.3,299.8 884.2,303.5 885.5,305.4" fill="none" stroke-width="2"/>
<polyline points="872.5,292.2 875.4,297.9 878.8,303.5 880.8,309.8" fill="none" stroke-width="1.8"/>
<polyline points="877.3,318.6 879.8,321.2 881.7,324.9 884.9,326.8" fill="none" stroke-width="1.8"/>
<polyline points="880.5,343.8 883.6,340 887.4,342.6 884.9,346.3 888.6,348.8 892.4,345.1 894.9,348.8 891.2,351.4" fill="none" stroke-width="1.6"/>
<polyline points="886.1,303.5 887.4,311.1 886.8,318.6 887.4,323" fill="none" stroke-width="1.6"/>
<polyline points="555,540.9 548.8,544.4 544.1,546.4 537.8,550.3 531.6,555 526.9,559.7 522.2,565.9 519.1,572.2 517.5,580" fill="none" stroke-width="1.9"/>
<polyline points="539.4,544.8 536.2,548.8 531.6,548 530,551.9 526.1,553.4 523.8,557.3" fill="none" stroke-width="1.5"/>
<polyline points="511.2,572.2 515.2,574.5 513.6,577.7 515.9,581.6" fill="none" stroke-width="1.5"/>
<polyline points="256.5,623.8 264,632.5 271.5,643.8 277.8,653.8" fill="none" stroke-width="1.3"/>
<polyline points="260.2,622.5 267.8,630 276.5,642.5 284,651.2" fill="none" stroke-width="1.1"/>
<polyline points="255.2,627.5 261.5,637.5 269,647.5 275.2,656.2" fill="none" stroke-width="1.1"/>
<polyline points="264,627.5 267.8,637.5 274,645 280.2,655" fill="none" stroke-width="1"/>
<polyline points="280.2,645 284,648.8 286.5,653.8" fill="none" stroke-width="1.2"/>
<polyline points="86.5,651.8 96.5,649.5 106.5,647.5 114,645" fill="none" stroke-width="1"/>
<polygon points="64,651.2 66,651 66,652.5 64,652.5" fill="#1b1b1b" stroke-width="0.8"/>
<polygon points="71.5,651.2 74.5,651 74.5,652.5 71.5,652.5" fill="#1b1b1b" stroke-width="0.8"/>
<polygon points="77.8,651 81,650.8 81,652.5 77.8,652.5" fill="#1b1b1b" stroke-width="0.8"/>
<polyline points="985,125 980.5,129.5 982.5,131.2 976.8,133.8 978.5,136.2 971.8,138 973.5,141.2 967.5,143 969.2,147 963,148.8 964.2,152.5 958,153.8 958.5,157.5 953.5,158" fill="none" stroke-width="1.6"/>
<polyline points="951.8,162.5 949.2,165.5 950.5,168.8 946,171.2" fill="none" stroke-width="1.5"/>
<polyline points="662.2,515.2 667.2,520.2 672.2,525.2 676,530.2 672.2,532.8" fill="none" stroke-width="2"/>
<polyline points="617.2,521.5 622.2,524 628.5,522.8 633.5,526.5" fill="none" stroke-width="1.5"/>
<polyline points="671,506.5 674.8,504.5 678.5,506" fill="none" stroke-width="1.5"/>
<polyline points="677.2,506.5 679.8,510.2 679,515.2" fill="none" stroke-width="1.6"/>
<polyline points="88.5,269 91.5,273.5 94,278.5 96,284.8 97.8,287.2" fill="none" stroke-width="2.2"/>
<polyline points="91.5,273.5 95.2,272.2 97.8,276" fill="none" stroke-width="1.6"/>
<polyline points="89,276 92,281 93.5,287.2" fill="none" stroke-width="1.4"/>
</g>
<g id="title">
<text class="t" x="519" y="38" font-size="20.6" text-anchor="middle">Pools Activity One-Year Forecast</text>
<text class="t" x="519" y="61" font-size="20.6" text-anchor="middle">as of January 2019</text>
</g>
<g id="legend" font-family="'Liberation Sans',Arial,sans-serif" font-size="14.5" fill="#111">
<text x="895" y="572" font-weight="bold" font-size="15" fill="#000">Legend</text>
<rect x="895.5" y="580.5" width="24.5" height="13.5" fill="#1872b4" stroke="#1c2a33" stroke-width="0.8"/>
<rect x="895.5" y="603" width="24.5" height="13.5" fill="#93c4e0" stroke="#1c2a33" stroke-width="0.8"/>
<rect x="895.5" y="625.5" width="24.5" height="13.5" fill="#f9f47c" stroke="#1c2a33" stroke-width="0.8"/>
<rect x="895.5" y="648" width="24.5" height="13.5" fill="#f3a483" stroke="#1c2a33" stroke-width="0.8"/>
<rect x="895.5" y="670.5" width="24.5" height="13.5" fill="#c90a27" stroke="#1c2a33" stroke-width="0.8"/>
<text x="931" y="593">0 - 20</text>
<text x="931" y="615.5">20 - 40</text>
<text x="931" y="638">40 - 60</text>
<text x="931" y="660.5">60 - 80</text>
<text x="931" y="683">80 - 100</text>
</g>
<text class="t" x="512" y="712.6" font-size="8.5" text-anchor="middle">Copyright 2019, Metrostudy, A Hanley Wood Company</text>

</svg></body></html>
